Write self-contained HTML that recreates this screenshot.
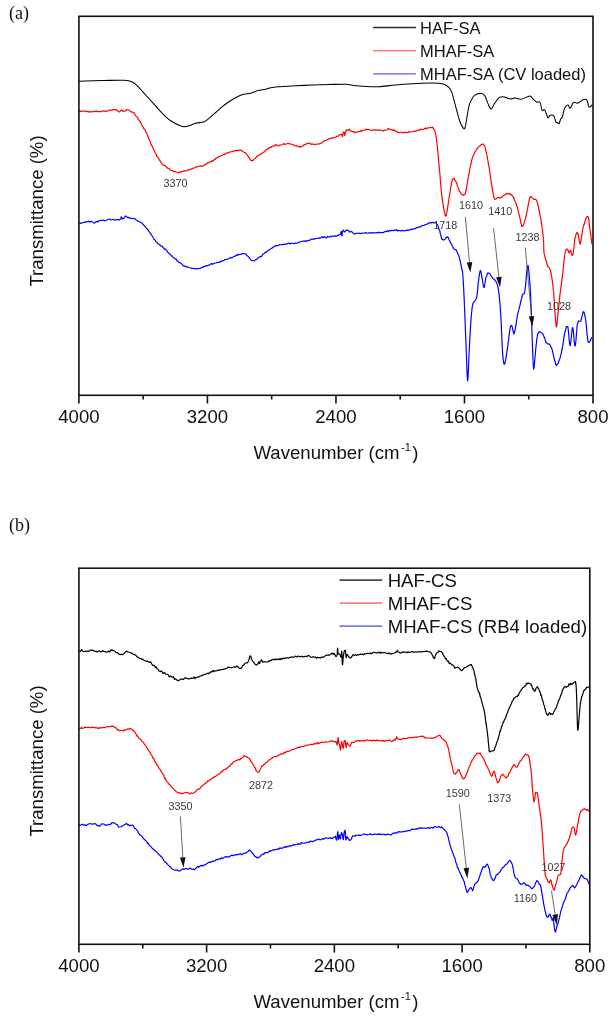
<!DOCTYPE html>
<html><head><meta charset="utf-8"><style>
html,body{margin:0;padding:0;background:#fff;overflow:hidden;width:614px;height:1020px;}
svg{display:block;will-change:transform;}
text{font-family:"Liberation Sans", sans-serif;}
</style></head><body>
<svg width="614" height="1020" viewBox="0 0 614 1020">
<rect width="614" height="1020" fill="#fff"/>
<path fill="none" stroke="#000" stroke-width="1.05" stroke-linejoin="round" d="M79.00,81.20C83.17,81.08 96.50,80.65 104.00,80.50C111.50,80.35 119.28,80.05 124.00,80.30C128.72,80.55 130.08,81.08 132.30,82.00C134.52,82.92 135.07,83.63 137.30,85.80C139.53,87.97 142.92,91.93 145.70,95.00C148.48,98.07 151.23,101.15 154.00,104.20C156.77,107.25 159.52,110.53 162.30,113.30C165.08,116.07 167.92,118.80 170.70,120.80C173.48,122.80 176.78,124.32 179.00,125.30C181.22,126.28 182.33,126.62 184.00,126.70C185.67,126.78 187.05,126.37 189.00,125.80C190.95,125.23 193.20,123.98 195.70,123.30C198.20,122.62 201.78,122.53 204.00,121.70C206.22,120.87 207.05,119.83 209.00,118.30C210.95,116.77 213.48,114.43 215.70,112.50C217.92,110.57 220.08,108.50 222.30,106.70C224.52,104.90 226.50,103.37 229.00,101.70C231.50,100.03 234.80,97.95 237.30,96.70C239.80,95.45 241.77,94.77 244.00,94.20C246.23,93.63 248.48,93.87 250.70,93.30C252.92,92.73 254.80,91.48 257.30,90.80C259.80,90.12 263.20,89.75 265.70,89.20C268.20,88.65 270.08,87.92 272.30,87.50C274.52,87.08 275.10,86.98 279.00,86.70C282.90,86.42 290.15,86.08 295.70,85.80C301.25,85.52 306.75,85.22 312.30,85.00C317.85,84.78 323.43,84.63 329.00,84.50C334.57,84.37 341.82,84.07 345.70,84.20C349.58,84.33 349.53,84.97 352.30,85.30C355.07,85.63 359.23,85.97 362.30,86.20C365.37,86.43 367.92,86.62 370.70,86.70C373.48,86.78 374.83,86.98 379.00,86.70C383.17,86.42 390.15,85.48 395.70,85.00C401.25,84.52 406.75,84.13 412.30,83.80C417.85,83.47 424.55,83.08 429.00,83.00C433.45,82.92 436.22,82.97 439.00,83.30C441.78,83.63 443.75,83.88 445.70,85.00C447.65,86.12 449.40,87.78 450.70,90.00C452.00,92.22 452.52,94.97 453.50,98.30C454.48,101.63 455.52,106.10 456.60,110.00C457.68,113.90 458.77,118.58 460.00,121.70C461.23,124.82 463.05,128.15 464.00,128.70C464.95,129.25 465.15,127.28 465.70,125.00C466.25,122.72 466.68,118.43 467.30,115.00C467.92,111.57 468.40,107.45 469.40,104.40C470.40,101.35 472.02,98.45 473.30,96.70C474.58,94.95 475.68,94.42 477.10,93.90C478.52,93.38 480.50,93.27 481.80,93.60C483.10,93.93 483.87,94.23 484.90,95.90C485.93,97.57 486.97,101.42 488.00,103.60C489.03,105.78 489.95,109.12 491.10,109.00C492.25,108.88 493.48,104.83 494.90,102.90C496.32,100.97 498.02,98.38 499.60,97.40C501.18,96.42 502.62,96.75 504.40,97.00C506.18,97.25 508.50,98.75 510.30,98.90C512.10,99.05 513.42,97.83 515.20,97.90C516.98,97.97 518.57,99.62 521.00,99.30C523.43,98.98 527.77,96.00 529.80,96.00C531.83,96.00 532.02,98.27 533.20,99.30C534.38,100.33 535.85,101.77 536.90,102.20C537.95,102.63 538.88,101.58 539.50,101.90C540.12,102.22 540.15,102.68 540.60,104.10C541.05,105.52 541.58,109.48 542.20,110.40C542.82,111.32 543.68,109.25 544.30,109.60C544.92,109.95 545.28,111.13 545.90,112.50C546.52,113.87 547.30,117.35 548.00,117.80C548.70,118.25 549.13,115.52 550.10,115.20C551.07,114.88 552.83,114.75 553.80,115.90C554.77,117.05 555.28,120.98 555.90,122.10C556.52,123.22 556.97,122.35 557.50,122.60C558.03,122.85 558.57,124.22 559.10,123.60C559.63,122.98 560.17,119.95 560.70,118.90C561.23,117.85 561.77,118.72 562.30,117.30C562.83,115.88 563.37,112.17 563.90,110.40C564.43,108.63 564.80,107.58 565.50,106.70C566.20,105.82 567.32,104.83 568.10,105.10C568.88,105.37 569.40,108.65 570.20,108.30C571.00,107.95 572.18,104.02 572.90,103.00C573.62,101.98 573.80,102.17 574.50,102.20C575.20,102.23 576.22,103.25 577.10,103.20C577.98,103.15 578.92,102.43 579.80,101.90C580.68,101.37 581.43,100.43 582.40,100.00C583.37,99.57 584.80,99.15 585.60,99.30C586.40,99.45 586.67,99.67 587.20,100.90C587.73,102.13 588.28,105.73 588.80,106.70C589.32,107.67 589.68,107.05 590.30,106.70C590.92,106.35 592.13,104.95 592.50,104.60"/>
<path fill="none" stroke="#ff0000" stroke-width="1.2" stroke-linejoin="round" d="M79.00,111.96 L79.66,110.83 L80.52,111.36 L81.54,111.19 L82.68,111.01 L83.91,111.16 L85.17,111.21 L86.43,111.40 L87.66,111.60 L88.80,111.85 L89.89,111.60 L90.98,111.95 L92.07,111.76 L93.16,111.67 L94.25,111.59 L95.34,111.36 L96.43,111.16 L97.52,111.68 L98.60,111.62 L99.71,111.75 L100.85,111.69 L102.02,111.06 L103.18,111.16 L104.32,110.92 L105.43,111.55 L106.47,111.06 L107.43,111.03 L108.30,110.56 L109.60,110.21 L110.65,110.18 L111.54,110.08 L112.36,110.06 L113.20,109.25 L114.64,109.89 L115.98,109.65 L117.10,110.09 L118.19,111.29 L119.10,112.03 L119.90,111.71 L120.75,110.76 L121.50,109.89 L122.16,110.21 L123.00,111.32 L123.83,111.16 L124.86,110.97 L125.94,110.38 L126.90,109.52 L128.44,110.01 L129.80,110.64 L131.14,111.84 L132.30,112.13 L133.70,112.49 L134.17,113.09 L134.66,113.74 L135.20,115.19 L136.21,116.32 L137.20,117.22 L137.63,117.36 L137.99,118.93 L138.60,119.77 L139.07,119.97 L139.61,121.27 L140.22,121.63 L140.89,122.81 L141.58,124.79 L142.30,126.33 L142.75,126.62 L143.22,127.23 L143.70,128.62 L144.21,129.00 L144.72,129.50 L145.24,129.98 L145.76,132.15 L146.28,132.09 L146.79,132.93 L147.30,134.75 L147.72,135.90 L148.13,136.52 L148.55,138.15 L148.97,138.75 L149.38,139.85 L149.80,140.95 L150.22,141.61 L150.63,142.89 L151.05,144.63 L151.47,144.48 L151.88,145.81 L152.30,146.86 L152.75,147.47 L153.21,148.62 L153.66,149.00 L154.12,150.39 L154.57,151.49 L155.03,152.79 L155.48,153.63 L155.94,153.98 L156.39,154.65 L156.85,156.51 L157.30,156.99 L157.86,156.98 L158.41,158.48 L158.97,159.21 L159.52,160.20 L160.08,160.67 L160.63,161.94 L161.19,162.67 L161.74,163.46 L162.30,164.54 L163.30,165.19 L164.30,165.38 L165.30,165.76 L166.30,166.70 L167.30,167.88 L168.27,168.50 L169.22,168.68 L170.18,170.00 L171.19,170.39 L172.30,170.57 L173.30,171.33 L174.35,171.53 L175.44,171.50 L176.59,171.98 L177.77,172.33 L179.00,172.75 L179.96,171.82 L180.96,172.07 L181.99,171.72 L183.04,171.37 L184.11,170.60 L185.18,171.11 L186.25,170.77 L187.30,170.55 L188.35,169.85 L189.40,169.90 L190.45,169.25 L191.50,169.10 L192.55,168.32 L193.60,168.20 L194.65,167.69 L195.70,167.12 L196.74,167.04 L197.78,166.51 L198.82,166.24 L199.86,166.21 L200.89,165.84 L201.93,166.46 L202.96,166.01 L204.00,165.37 L204.92,164.88 L205.84,163.89 L206.76,163.84 L207.68,162.78 L208.60,162.59 L209.53,162.14 L210.45,161.68 L211.37,161.61 L212.30,160.51 L213.23,161.11 L214.16,159.52 L215.10,159.42 L216.03,157.98 L216.97,158.26 L217.90,156.93 L218.84,156.87 L219.77,156.28 L220.70,156.08 L221.73,155.51 L222.74,154.97 L223.75,154.34 L224.75,154.68 L225.77,153.43 L226.81,153.23 L227.88,152.69 L229.00,152.54 L229.95,151.85 L230.97,151.73 L232.03,151.73 L233.12,151.03 L234.21,151.09 L235.28,150.45 L236.31,150.91 L237.29,150.16 L238.19,150.69 L239.00,150.17 L240.35,149.99 L241.44,150.63 L242.36,151.11 L243.19,151.72 L244.00,152.18 L244.92,152.67 L245.68,152.69 L246.43,154.30 L247.30,154.96 L247.89,155.88 L248.52,157.10 L249.18,157.39 L249.85,159.08 L250.52,160.32 L251.18,160.33 L251.80,160.38 L252.75,160.85 L253.62,159.66 L254.55,158.90 L255.70,157.94 L256.52,156.42 L257.44,156.49 L258.42,155.23 L259.44,154.90 L260.45,154.73 L261.42,153.48 L262.30,153.04 L263.21,152.43 L264.02,152.00 L264.79,151.32 L265.57,150.66 L266.39,149.66 L267.30,148.93 L268.18,148.79 L269.14,147.79 L270.14,147.26 L271.16,147.28 L272.16,146.27 L273.12,145.81 L274.00,146.19 L275.03,145.45 L275.88,144.51 L276.72,144.95 L277.71,145.82 L279.00,145.99 L279.81,144.77 L280.73,144.97 L281.74,144.82 L282.80,144.49 L283.89,143.57 L285.00,144.41 L286.09,144.02 L287.13,143.75 L288.11,143.21 L289.00,143.57 L290.33,143.91 L291.54,144.17 L292.66,144.74 L293.71,144.95 L294.72,145.83 L295.70,146.01 L296.78,145.69 L297.75,146.20 L298.67,146.81 L299.62,146.58 L300.70,147.18 L301.53,146.24 L302.37,146.10 L303.24,145.70 L304.15,144.53 L305.12,144.84 L306.16,143.89 L307.30,143.44 L308.16,143.37 L309.08,143.05 L310.05,143.26 L311.06,144.40 L312.09,143.98 L313.14,144.08 L314.19,144.36 L315.25,144.55 L316.28,144.04 L317.30,144.11 L318.31,144.02 L319.34,143.93 L320.38,143.23 L321.42,143.24 L322.45,142.05 L323.47,141.47 L324.48,140.57 L325.45,140.53 L326.40,140.31 L327.30,139.60 L328.38,139.20 L329.43,138.54 L330.44,138.34 L331.42,138.07 L332.35,137.90 L333.25,138.02 L334.10,137.55 L334.90,137.41 L336.10,137.03 L337.20,136.00 L338.19,136.21 L339.06,135.39 L339.80,134.62 L341.70,134.47 L342.17,135.84 L342.50,136.05 L342.68,136.70 L342.84,134.65 L343.01,133.68 L343.20,132.06 L344.20,132.22 L344.39,133.40 L344.52,134.59 L344.70,135.67 L344.89,135.07 L345.12,134.08 L345.36,132.25 L345.60,131.86 L346.60,129.88 L348.10,130.38 L349.30,129.21 L350.50,131.11 L351.71,131.06 L353.00,132.01 L353.95,131.29 L354.90,132.70 L356.11,132.46 L357.40,131.83 L358.40,131.56 L360.00,131.36 L360.76,130.52 L361.61,131.34 L362.57,130.53 L363.62,130.17 L364.76,130.24 L365.99,129.12 L367.30,129.52 L368.22,129.53 L369.23,129.38 L370.32,130.13 L371.46,130.50 L372.63,129.96 L373.81,129.88 L374.97,130.14 L376.09,129.89 L377.15,130.15 L378.13,130.29 L379.00,130.10 L380.39,130.13 L381.58,130.43 L382.62,130.57 L383.55,130.91 L384.40,130.20 L385.20,130.29 L386.47,129.96 L387.42,129.50 L388.50,128.42 L389.49,129.39 L390.55,129.78 L391.71,129.46 L393.00,130.57 L393.92,129.78 L394.87,130.89 L395.88,130.79 L396.96,132.15 L398.16,132.42 L399.50,132.55 L400.41,132.26 L401.41,132.14 L402.48,132.72 L403.60,132.41 L404.75,132.83 L405.90,132.01 L407.02,132.68 L408.09,132.67 L409.09,131.64 L410.00,131.92 L411.31,131.99 L412.46,131.85 L413.50,131.24 L414.48,131.61 L415.46,130.94 L416.50,131.04 L417.57,130.13 L418.62,130.03 L419.67,130.33 L420.74,129.13 L421.84,129.38 L423.00,129.57 L424.09,129.06 L425.29,128.00 L426.52,128.92 L427.75,127.66 L428.91,127.93 L429.95,127.77 L430.80,127.25 L432.07,127.75 L432.77,127.09 L433.40,128.89 L433.96,129.67 L434.48,130.40 L434.96,131.66 L435.40,133.34 L435.62,134.17 L435.82,134.55 L436.01,136.04 L436.18,137.26 L436.35,138.08 L436.52,139.47 L436.70,139.90 L436.80,141.03 L436.89,142.55 L436.99,142.77 L437.08,144.49 L437.18,145.53 L437.27,145.75 L437.37,146.68 L437.46,148.05 L437.56,149.27 L437.67,150.59 L437.77,151.36 L437.88,152.64 L438.00,153.51 L438.08,154.83 L438.17,155.36 L438.26,156.91 L438.35,157.76 L438.44,157.92 L438.53,159.62 L438.63,160.13 L438.73,161.89 L438.83,162.24 L438.92,164.10 L439.02,165.10 L439.12,166.48 L439.22,166.99 L439.32,167.96 L439.42,169.45 L439.52,169.67 L439.61,171.14 L439.71,172.10 L439.80,173.24 L439.89,173.69 L439.97,174.66 L440.05,175.66 L440.13,177.78 L440.21,178.17 L440.29,179.53 L440.37,180.30 L440.45,181.29 L440.53,182.85 L440.61,182.61 L440.69,184.37 L440.77,185.19 L440.85,186.15 L440.93,186.91 L441.02,187.93 L441.11,189.04 L441.20,190.81 L441.30,191.14 L441.40,192.16 L441.50,193.19 L441.64,194.63 L441.78,195.94 L441.93,196.81 L442.09,197.92 L442.25,199.27 L442.41,199.96 L442.58,201.45 L442.75,203.08 L442.92,203.35 L443.09,204.34 L443.25,205.11 L443.41,206.64 L443.57,207.76 L443.72,208.26 L443.86,209.10 L444.00,210.37 L444.33,211.70 L444.63,213.37 L444.91,214.13 L445.17,215.54 L445.43,215.90 L445.70,215.71 L445.96,215.38 L446.21,215.97 L446.45,213.89 L446.70,212.79 L446.98,210.82 L447.30,210.20 L447.43,209.23 L447.57,208.34 L447.71,206.92 L447.86,206.48 L448.01,205.16 L448.17,203.94 L448.33,203.14 L448.49,202.19 L448.66,200.87 L448.82,199.58 L448.99,198.85 L449.15,197.54 L449.32,196.21 L449.48,195.46 L449.64,194.34 L449.80,193.58 L449.99,192.38 L450.19,191.16 L450.39,189.51 L450.60,188.98 L450.80,187.70 L451.00,186.02 L451.20,185.54 L451.40,184.08 L451.59,182.71 L451.78,182.13 L451.96,180.87 L452.13,180.97 L452.30,179.52 L453.15,178.70 L454.00,178.36 L454.44,179.10 L454.90,180.34 L455.40,180.99 L455.94,181.44 L456.50,183.22 L456.83,183.43 L457.18,185.21 L457.54,185.62 L457.91,186.99 L458.28,188.03 L458.66,188.58 L459.04,190.18 L459.42,191.55 L459.80,191.35 L460.66,192.80 L461.55,194.18 L462.41,195.14 L463.20,194.66 L463.87,195.03 L464.46,194.80 L465.04,194.07 L465.70,191.38 L465.86,191.87 L466.03,190.97 L466.20,188.96 L466.38,188.25 L466.56,187.68 L466.74,186.31 L466.93,185.27 L467.11,184.34 L467.30,182.95 L467.49,181.83 L467.68,180.95 L467.87,179.57 L468.06,178.68 L468.25,177.78 L468.44,176.70 L468.63,175.28 L468.82,174.94 L469.00,173.14 L469.22,172.47 L469.44,171.67 L469.66,170.00 L469.88,169.12 L470.10,167.58 L470.32,166.47 L470.53,165.68 L470.75,164.75 L470.97,163.70 L471.19,162.82 L471.41,161.76 L471.63,160.71 L471.85,159.66 L472.08,159.01 L472.30,158.29 L472.72,156.95 L473.15,155.42 L473.57,155.20 L474.00,154.22 L474.43,153.09 L474.85,152.08 L475.28,151.88 L475.70,150.70 L476.36,149.64 L477.00,149.04 L477.64,147.88 L478.30,147.41 L479.00,146.51 L479.96,145.89 L480.97,144.78 L481.98,144.17 L482.90,144.03 L483.44,144.40 L483.94,145.06 L484.41,146.10 L484.86,146.65 L485.32,148.00 L485.80,150.11 L486.00,150.90 L486.20,151.59 L486.40,153.07 L486.60,153.65 L486.80,154.90 L487.00,155.53 L487.20,156.09 L487.40,157.19 L487.60,159.15 L487.80,159.93 L488.00,160.92 L488.20,162.69 L488.40,164.02 L488.60,164.74 L488.80,166.23 L488.95,166.63 L489.11,167.39 L489.26,168.15 L489.42,170.12 L489.57,170.27 L489.72,171.73 L489.88,172.97 L490.03,174.23 L490.18,174.48 L490.33,176.13 L490.48,177.01 L490.64,178.86 L490.79,179.36 L490.94,180.25 L491.09,182.08 L491.24,182.55 L491.40,183.73 L491.55,184.50 L491.70,185.23 L491.91,186.73 L492.11,187.44 L492.32,188.42 L492.53,189.86 L492.73,191.47 L492.94,192.26 L493.14,193.84 L493.35,194.76 L493.56,195.56 L493.76,196.76 L493.97,197.32 L494.18,198.01 L494.39,198.41 L494.60,198.95 L495.60,199.35 L496.60,198.37 L497.60,197.52 L498.54,197.61 L499.46,197.92 L500.50,197.95 L501.38,197.59 L502.32,196.50 L503.33,195.80 L504.40,194.98 L505.33,194.63 L506.34,193.39 L507.36,193.84 L508.37,193.87 L509.30,193.33 L510.14,194.54 L510.93,194.41 L511.69,194.79 L512.44,196.32 L513.20,196.67 L513.59,198.61 L514.00,198.26 L514.40,199.71 L514.81,200.83 L515.21,201.60 L515.61,202.47 L516.00,203.27 L516.38,204.56 L516.75,205.78 L517.10,207.12 L517.38,206.96 L517.65,208.88 L517.91,209.29 L518.16,210.49 L518.40,211.69 L518.64,212.55 L518.88,214.00 L519.11,214.26 L519.33,215.96 L519.56,216.40 L519.78,217.52 L520.00,218.46 L520.32,219.30 L520.61,221.26 L520.89,223.19 L521.16,223.51 L521.44,224.52 L521.73,226.17 L522.05,226.74 L522.40,225.60 L522.71,225.94 L523.03,225.32 L523.37,224.97 L523.72,224.01 L524.08,222.68 L524.45,221.73 L524.82,221.00 L525.18,219.00 L525.55,218.03 L525.90,216.80 L526.11,216.32 L526.32,214.93 L526.54,213.84 L526.77,212.35 L526.99,211.61 L527.22,210.80 L527.45,209.30 L527.67,208.35 L527.89,206.57 L528.11,205.81 L528.32,204.31 L528.52,203.06 L528.72,202.04 L528.91,201.69 L529.08,200.61 L529.25,199.58 L529.40,198.90 L530.14,196.79 L530.80,196.44 L531.42,197.34 L532.15,197.85 L532.93,198.47 L533.70,199.33 L534.70,199.25 L535.70,199.31 L536.70,200.72 L536.95,201.34 L537.20,202.12 L537.45,202.82 L537.70,203.77 L537.95,205.10 L538.19,205.58 L538.44,206.27 L538.68,208.82 L538.92,209.41 L539.15,210.56 L539.38,212.00 L539.60,213.07 L539.80,214.17 L539.99,215.00 L540.19,215.96 L540.37,216.90 L540.56,217.74 L540.74,218.80 L540.92,218.69 L541.09,221.53 L541.26,222.00 L541.43,222.77 L541.59,224.57 L541.75,225.00 L541.90,226.42 L542.05,227.06 L542.20,228.02 L542.34,229.85 L542.48,230.59 L542.62,231.09 L542.75,232.92 L542.88,234.07 L543.00,234.73 L543.11,236.12 L543.22,237.37 L543.32,238.36 L543.41,239.20 L543.50,240.25 L543.57,241.62 L543.63,242.22 L543.66,243.12 L543.68,244.19 L543.70,246.42 L543.71,246.02 L543.72,247.40 L543.74,247.77 L543.77,249.37 L543.83,250.28 L543.90,251.25 L544.00,252.45 L544.18,253.88 L544.40,254.60 L544.65,255.37 L544.93,256.56 L545.21,257.78 L545.50,258.53 L545.79,259.70 L546.06,260.81 L546.30,261.56 L546.69,263.60 L547.05,263.62 L547.40,265.35 L547.74,266.63 L548.10,266.72 L549.04,267.17 L550.00,269.60 L550.21,269.90 L550.42,270.55 L550.64,271.66 L550.85,271.90 L551.06,272.93 L551.27,275.00 L551.48,275.72 L551.69,276.41 L551.90,278.25 L552.02,279.64 L552.15,279.58 L552.27,280.25 L552.39,280.88 L552.52,282.52 L552.64,283.46 L552.76,284.22 L552.89,285.23 L553.01,286.33 L553.13,287.25 L553.24,288.34 L553.36,289.98 L553.48,290.80 L553.59,292.15 L553.70,292.56 L553.77,293.74 L553.85,295.32 L553.92,295.99 L553.99,297.29 L554.07,297.48 L554.14,299.25 L554.21,299.92 L554.28,301.22 L554.34,302.09 L554.41,303.12 L554.48,304.21 L554.55,305.64 L554.62,307.15 L554.68,307.52 L554.75,308.75 L554.81,309.67 L554.88,310.74 L554.94,312.23 L555.01,312.80 L555.07,313.52 L555.14,314.93 L555.20,315.60 L555.33,317.12 L555.45,318.55 L555.57,319.74 L555.69,321.60 L555.80,322.38 L555.92,323.81 L556.04,324.78 L556.15,325.94 L556.27,326.11 L556.38,326.83 L556.50,326.11 L556.62,326.58 L556.73,326.18 L556.84,325.48 L556.95,323.89 L557.06,323.78 L557.17,322.13 L557.28,320.81 L557.40,320.21 L557.53,318.20 L557.66,317.19 L557.80,314.90 L557.89,314.87 L557.98,313.81 L558.08,312.92 L558.17,311.53 L558.27,310.98 L558.37,309.77 L558.47,309.25 L558.58,307.56 L558.68,306.10 L558.79,305.92 L558.90,304.10 L559.01,303.29 L559.12,302.52 L559.23,301.74 L559.35,300.27 L559.46,299.24 L559.58,298.00 L559.70,296.93 L559.82,295.84 L559.94,294.97 L560.07,293.55 L560.19,292.94 L560.32,292.28 L560.45,290.96 L560.58,289.87 L560.71,289.19 L560.84,287.65 L560.98,286.88 L561.11,286.71 L561.25,285.19 L561.39,284.13 L561.53,282.77 L561.67,281.48 L561.81,280.23 L561.96,279.48 L562.10,278.74 L562.21,277.35 L562.32,276.69 L562.43,275.30 L562.55,274.39 L562.67,273.41 L562.79,273.17 L562.91,271.09 L563.03,269.60 L563.15,269.08 L563.27,267.61 L563.39,266.64 L563.51,265.06 L563.63,264.48 L563.76,262.82 L563.88,262.10 L564.00,260.76 L564.12,259.61 L564.23,259.06 L564.35,258.05 L564.46,256.32 L564.58,256.40 L564.69,255.65 L564.79,254.71 L564.90,254.11 L565.38,251.68 L565.84,250.19 L566.27,249.16 L566.69,249.28 L567.10,249.22 L567.61,249.09 L568.09,250.82 L568.56,251.99 L569.00,252.94 L569.50,252.74 L569.96,250.95 L570.50,250.37 L570.89,250.98 L571.32,253.47 L571.77,254.70 L572.24,255.45 L572.70,255.07 L572.84,255.11 L572.99,254.26 L573.14,253.12 L573.28,251.99 L573.43,250.58 L573.58,250.24 L573.73,249.11 L573.88,248.04 L574.03,246.03 L574.18,244.93 L574.34,242.68 L574.49,242.34 L574.64,240.71 L574.79,239.63 L574.95,238.70 L575.10,237.91 L575.51,236.25 L575.92,235.06 L576.34,233.41 L576.76,232.69 L577.18,232.38 L577.60,233.28 L577.83,233.34 L578.07,233.74 L578.31,235.39 L578.55,237.05 L578.79,237.92 L579.03,239.71 L579.27,241.24 L579.50,241.63 L579.74,243.12 L579.97,243.63 L580.20,244.08 L580.38,244.00 L580.56,242.90 L580.74,241.82 L580.91,241.25 L581.09,240.36 L581.27,238.95 L581.44,237.99 L581.62,236.20 L581.79,235.46 L581.96,234.24 L582.12,233.43 L582.29,231.59 L582.44,230.97 L582.60,229.56 L582.95,228.04 L583.27,226.78 L583.59,225.98 L583.89,224.69 L584.19,223.64 L584.50,224.05 L584.86,221.95 L585.22,220.77 L585.58,219.62 L585.94,218.36 L586.30,217.63 L587.25,216.47 L588.20,216.89 L588.34,217.71 L588.48,217.62 L588.62,218.99 L588.76,219.44 L588.90,220.31 L589.03,222.06 L589.17,223.02 L589.30,224.33 L589.44,225.48 L589.58,225.79 L589.72,227.79 L589.86,229.36 L590.00,229.86 L590.14,231.12 L590.28,232.35 L590.43,233.58 L590.59,233.30 L590.75,235.20 L590.91,236.41 L591.06,237.53 L591.21,239.09 L591.36,239.37 L591.49,239.97 L591.62,241.80 L591.73,242.44 L591.82,243.58 L591.90,244.17"/>
<path fill="none" stroke="#0000ff" stroke-width="1.2" stroke-linejoin="round" d="M79.00,222.82 L79.86,222.92 L81.08,223.33 L82.49,222.73 L83.90,222.47 L84.84,222.45 L85.83,221.51 L86.86,221.91 L87.88,221.74 L88.87,221.13 L89.80,222.20 L90.84,221.22 L91.84,221.65 L92.79,222.22 L93.71,222.81 L94.60,223.17 L95.66,221.80 L96.66,221.56 L97.63,222.03 L98.60,221.01 L99.62,220.59 L100.65,220.28 L101.63,220.63 L102.50,219.99 L103.73,220.40 L104.90,220.88 L105.90,220.53 L107.02,220.06 L108.30,219.22 L109.37,218.97 L110.53,219.81 L111.80,219.76 L113.20,219.26 L114.30,220.14 L115.57,219.79 L116.89,219.49 L118.16,219.94 L119.26,219.80 L120.10,219.26 L120.89,219.08 L121.03,216.73 L121.20,216.81 L121.74,217.40 L122.50,219.10 L123.33,218.44 L124.33,217.78 L125.40,216.00 L126.51,216.71 L127.68,217.54 L128.90,217.37 L130.21,218.46 L131.56,218.25 L132.80,218.57 L133.83,218.49 L134.74,218.32 L135.70,219.77 L136.70,220.25 L137.74,221.14 L139.00,221.52 L139.76,221.72 L140.59,222.51 L141.48,222.76 L142.40,223.67 L143.31,224.75 L144.20,225.64 L144.84,226.51 L145.47,226.72 L146.09,228.00 L146.72,228.49 L147.35,228.86 L148.01,229.88 L148.69,231.12 L149.40,231.86 L149.93,232.60 L150.47,233.77 L151.01,233.97 L151.55,235.19 L152.11,235.86 L152.69,236.50 L153.28,237.88 L153.90,239.23 L154.54,239.56 L155.20,240.28 L155.90,241.78 L156.58,242.23 L157.29,242.90 L158.04,243.78 L158.82,244.09 L159.61,244.64 L160.42,245.64 L161.23,246.04 L162.04,246.07 L162.84,247.55 L163.62,247.90 L164.37,249.11 L165.10,249.13 L165.85,249.12 L166.57,250.52 L167.26,251.15 L167.93,252.55 L168.59,253.05 L169.26,253.84 L169.93,253.90 L170.62,254.80 L171.34,256.01 L172.10,255.82 L172.90,257.06 L173.62,257.98 L174.38,258.05 L175.18,258.99 L175.99,258.85 L176.83,260.86 L177.68,260.74 L178.52,262.30 L179.37,262.65 L180.21,262.69 L181.02,263.35 L181.82,264.02 L182.58,264.82 L183.30,265.83 L184.40,265.96 L185.43,266.63 L186.42,266.34 L187.36,267.23 L188.29,267.20 L189.21,267.47 L190.14,267.74 L191.10,268.30 L192.19,268.31 L193.25,268.50 L194.30,268.55 L195.37,268.55 L196.47,268.94 L197.64,268.89 L198.90,268.53 L199.76,268.40 L200.68,267.97 L201.64,267.40 L202.63,267.48 L203.64,266.43 L204.66,266.54 L205.67,265.76 L206.66,265.60 L207.62,265.81 L208.54,265.15 L209.40,264.90 L210.49,264.22 L211.48,263.63 L212.41,264.09 L213.31,263.92 L214.20,263.22 L215.13,263.04 L216.12,262.81 L217.20,262.44 L218.05,262.52 L218.93,262.36 L219.85,261.61 L220.79,261.97 L221.75,260.85 L222.73,260.91 L223.71,260.69 L224.69,259.46 L225.67,259.74 L226.64,259.18 L227.60,258.98 L228.56,258.79 L229.54,258.22 L230.54,257.42 L231.55,258.07 L232.55,257.40 L233.54,256.62 L234.51,256.17 L235.44,256.04 L236.35,255.15 L237.20,255.35 L238.00,254.43 L239.34,254.66 L240.55,254.38 L241.66,253.85 L242.67,253.65 L243.61,253.75 L244.50,253.48 L245.66,253.96 L246.61,255.02 L247.48,256.07 L248.40,256.51 L249.15,257.62 L249.87,258.78 L250.62,259.68 L251.44,260.24 L252.40,260.77 L253.19,260.73 L254.04,260.89 L254.94,260.42 L255.89,259.50 L256.88,259.46 L257.88,258.24 L258.90,257.39 L259.71,256.82 L260.55,256.47 L261.40,256.54 L262.28,255.37 L263.16,253.78 L264.05,253.61 L264.94,252.72 L265.83,251.97 L266.70,252.07 L267.54,251.39 L268.33,250.18 L269.11,249.93 L269.88,249.36 L270.68,248.73 L271.51,248.48 L272.42,247.68 L273.41,246.80 L274.50,246.58 L275.34,245.56 L276.24,245.65 L277.20,245.82 L278.20,245.40 L279.24,244.90 L280.30,244.72 L281.37,244.53 L282.45,244.73 L283.51,244.21 L284.56,244.42 L285.59,244.03 L286.57,244.19 L287.50,243.66 L288.65,243.08 L289.75,243.91 L290.82,243.39 L291.86,243.38 L292.88,243.52 L293.88,243.67 L294.89,243.11 L295.91,243.18 L296.94,243.10 L298.00,242.96 L298.98,242.00 L299.96,241.80 L300.95,241.55 L301.93,241.24 L302.93,241.08 L303.92,241.06 L304.93,240.83 L305.94,241.48 L306.95,240.84 L307.97,240.56 L309.00,240.28 L310.04,240.24 L311.09,239.05 L312.14,239.28 L313.21,238.92 L314.28,239.19 L315.35,238.62 L316.42,238.50 L317.50,238.22 L318.57,237.85 L319.64,238.30 L320.70,237.74 L321.78,236.77 L322.90,237.73 L324.04,236.59 L325.18,237.48 L326.32,238.00 L327.45,236.47 L328.54,237.15 L329.58,236.68 L330.56,236.30 L331.47,236.90 L332.30,236.16 L333.86,236.16 L335.15,235.89 L336.20,236.12 L337.07,235.82 L337.80,235.63 L339.00,234.88 L340.50,234.21 L340.89,232.16 L341.20,231.58 L341.40,232.49 L341.61,233.81 L341.82,235.51 L342.00,236.00 L342.14,235.84 L342.24,233.84 L342.35,232.63 L342.50,231.46 L343.40,230.13 L344.40,232.03 L345.60,230.83 L347.10,230.12 L348.30,230.46 L349.02,231.06 L349.80,232.20 L351.50,231.36 L352.28,232.14 L353.00,232.96 L354.20,234.13 L354.87,234.00 L355.90,233.36 L356.72,233.46 L357.70,233.26 L358.81,233.02 L360.00,233.67 L360.92,233.44 L361.80,233.19 L362.80,233.26 L364.05,233.17 L365.70,232.62 L366.49,233.03 L367.38,233.24 L368.35,232.94 L369.40,232.87 L370.49,233.06 L371.62,232.69 L372.76,232.85 L373.90,232.90 L375.03,232.94 L376.12,232.55 L377.15,232.98 L378.12,232.23 L379.00,232.89 L380.28,232.26 L381.42,232.58 L382.47,232.71 L383.46,232.56 L384.40,231.84 L385.34,231.44 L386.29,231.56 L387.30,230.81 L388.35,231.67 L389.40,230.45 L390.45,231.11 L391.50,230.22 L392.55,230.36 L393.60,230.72 L394.65,230.08 L395.70,230.31 L396.74,229.72 L397.78,231.06 L398.82,230.27 L399.86,230.73 L400.89,230.84 L401.93,230.43 L402.96,230.56 L404.00,230.97 L405.04,230.68 L406.07,230.32 L407.11,230.42 L408.14,229.90 L409.18,230.11 L410.22,229.86 L411.26,229.08 L412.30,229.54 L413.35,228.93 L414.40,228.50 L415.45,228.54 L416.50,227.53 L417.55,227.71 L418.60,227.14 L419.65,226.92 L420.70,226.97 L421.77,225.67 L422.89,225.52 L424.02,225.31 L425.14,224.71 L426.23,224.42 L427.25,224.22 L428.18,223.04 L429.00,223.21 L430.57,222.57 L431.63,222.87 L432.70,222.31 L434.00,222.66 L435.30,222.79 L436.50,223.40 L436.95,224.39 L437.38,224.94 L437.78,225.51 L438.16,226.37 L438.54,227.74 L438.91,229.48 L439.30,229.79 L439.60,230.71 L439.90,231.14 L440.20,233.34 L440.50,234.20 L440.80,235.14 L441.10,236.83 L441.40,237.15 L441.70,239.09 L442.00,238.93 L443.39,240.15 L444.80,239.31 L445.73,238.33 L446.67,236.82 L447.60,237.42 L448.16,237.19 L448.72,238.69 L449.28,240.06 L449.84,240.94 L450.40,242.70 L450.87,243.15 L451.33,243.78 L451.80,244.66 L452.27,246.04 L452.73,246.82 L453.20,247.58 L454.13,249.15 L455.07,249.51 L456.00,249.92 L456.47,250.48 L456.95,251.71 L457.43,252.50 L457.90,253.66 L458.36,254.61 L458.80,255.87 L459.08,256.85 L459.35,257.22 L459.62,258.87 L459.88,260.00 L460.14,260.37 L460.39,262.23 L460.63,263.02 L460.87,264.53 L461.10,264.99 L461.28,266.76 L461.46,267.58 L461.64,268.54 L461.80,268.46 L461.97,269.05 L462.13,269.83 L462.29,270.80 L462.44,271.55 L462.60,273.72 L462.75,274.00 L462.90,275.95 L462.96,276.52 L463.02,277.92 L463.07,278.82 L463.13,278.97 L463.19,279.86 L463.24,281.22 L463.30,281.68 L463.35,283.35 L463.40,283.63 L463.46,285.32 L463.51,286.22 L463.56,286.39 L463.62,287.57 L463.67,288.77 L463.72,289.62 L463.77,290.62 L463.82,292.11 L463.88,293.87 L463.93,293.79 L463.98,294.68 L464.03,296.38 L464.08,297.27 L464.14,298.82 L464.19,299.51 L464.24,300.73 L464.29,302.56 L464.35,302.97 L464.40,304.73 L464.44,304.71 L464.48,306.21 L464.52,307.08 L464.56,307.82 L464.60,309.19 L464.64,310.32 L464.68,311.17 L464.72,311.37 L464.76,312.32 L464.80,313.69 L464.84,315.49 L464.88,315.08 L464.92,316.73 L464.96,318.42 L465.00,318.71 L465.04,319.90 L465.08,320.65 L465.12,321.54 L465.16,322.55 L465.20,324.50 L465.24,324.98 L465.28,325.61 L465.32,326.66 L465.36,327.63 L465.40,329.93 L465.44,330.27 L465.48,331.32 L465.52,331.85 L465.56,333.56 L465.60,334.58 L465.65,336.33 L465.69,337.41 L465.73,337.69 L465.77,338.34 L465.81,339.37 L465.86,340.29 L465.90,341.39 L465.94,343.12 L465.99,343.83 L466.03,345.15 L466.07,345.66 L466.12,347.29 L466.16,348.53 L466.20,349.16 L466.25,350.74 L466.29,352.01 L466.34,353.93 L466.38,354.56 L466.43,355.97 L466.47,356.97 L466.52,358.80 L466.57,359.75 L466.61,361.30 L466.66,362.32 L466.70,363.76 L466.75,365.34 L466.80,365.75 L466.84,367.47 L466.89,368.09 L466.93,369.78 L466.98,369.88 L467.03,371.53 L467.07,372.53 L467.12,373.42 L467.16,374.41 L467.21,375.40 L467.25,376.26 L467.30,377.07 L467.34,378.18 L467.38,378.39 L467.43,379.44 L467.47,379.53 L467.51,379.51 L467.56,379.92 L467.60,381.01 L467.66,380.44 L467.72,380.25 L467.77,379.67 L467.83,379.77 L467.89,379.16 L467.94,377.90 L468.00,377.68 L468.05,376.39 L468.10,375.30 L468.16,375.03 L468.21,373.78 L468.26,372.49 L468.32,371.56 L468.37,370.31 L468.42,368.73 L468.48,367.53 L468.53,366.06 L468.59,364.80 L468.64,363.67 L468.69,362.10 L468.75,360.59 L468.81,358.92 L468.86,357.97 L468.92,355.71 L468.98,355.05 L469.04,353.75 L469.10,353.21 L469.15,351.40 L469.21,350.80 L469.26,349.90 L469.32,348.31 L469.37,347.72 L469.43,346.22 L469.48,345.98 L469.54,344.55 L469.60,343.36 L469.65,342.05 L469.71,340.62 L469.77,340.01 L469.83,339.67 L469.89,337.46 L469.95,337.02 L470.00,335.95 L470.06,334.63 L470.12,334.17 L470.18,332.50 L470.24,331.91 L470.30,330.57 L470.36,329.69 L470.42,328.04 L470.48,327.54 L470.54,325.98 L470.60,325.86 L470.66,325.20 L470.72,323.61 L470.78,322.25 L470.84,322.18 L470.90,321.46 L471.01,319.39 L471.12,317.89 L471.22,317.28 L471.33,315.58 L471.43,314.82 L471.53,313.50 L471.63,312.36 L471.73,311.89 L471.84,309.99 L471.95,308.90 L472.07,308.30 L472.20,307.31 L472.33,306.80 L472.48,305.52 L472.63,305.63 L472.80,304.27 L473.25,302.94 L473.78,302.04 L474.35,301.70 L474.95,300.81 L475.52,299.98 L476.05,299.25 L476.50,297.77 L476.67,297.43 L476.82,296.41 L476.97,295.95 L477.10,293.86 L477.23,293.92 L477.34,292.42 L477.46,291.01 L477.56,290.21 L477.67,289.52 L477.77,287.77 L477.87,286.45 L477.97,286.24 L478.07,284.22 L478.17,283.93 L478.28,282.62 L478.40,281.55 L478.57,280.79 L478.75,279.18 L478.92,277.66 L479.10,277.13 L479.27,275.61 L479.44,274.17 L479.62,273.31 L479.79,272.53 L479.96,271.40 L480.13,271.03 L480.30,270.71 L480.53,270.58 L480.75,271.06 L480.98,272.19 L481.20,273.15 L481.42,274.07 L481.65,275.55 L481.87,277.48 L482.10,278.21 L482.31,279.14 L482.52,280.61 L482.73,281.75 L482.94,282.90 L483.16,284.57 L483.37,286.45 L483.58,286.40 L483.79,287.39 L484.00,287.28 L484.20,287.38 L484.39,286.46 L484.58,285.69 L484.77,284.52 L484.96,283.26 L485.15,282.16 L485.35,280.77 L485.57,279.74 L485.80,277.51 L486.17,277.00 L486.56,276.33 L486.97,275.23 L487.40,273.49 L487.84,272.82 L488.30,273.15 L489.04,273.22 L489.83,273.80 L490.63,275.28 L491.40,276.24 L492.36,277.58 L493.28,278.97 L494.20,279.05 L494.77,279.83 L495.36,280.96 L495.94,281.63 L496.50,282.35 L497.00,283.88 L497.25,284.61 L497.48,285.31 L497.70,286.55 L497.91,287.10 L498.10,287.84 L498.30,289.04 L498.50,290.27 L498.69,291.73 L498.90,293.17 L498.99,294.79 L499.07,295.08 L499.16,295.29 L499.25,296.42 L499.33,297.48 L499.42,297.91 L499.51,298.81 L499.60,299.91 L499.68,300.43 L499.77,301.61 L499.86,302.83 L499.94,303.50 L500.03,304.58 L500.12,305.87 L500.20,306.46 L500.29,307.73 L500.37,308.94 L500.46,310.62 L500.55,311.76 L500.63,313.22 L500.72,314.14 L500.80,315.36 L500.85,316.51 L500.90,317.23 L500.95,318.45 L501.00,319.43 L501.05,319.95 L501.10,320.94 L501.15,322.13 L501.19,322.98 L501.24,324.30 L501.29,324.92 L501.34,326.41 L501.39,327.86 L501.44,329.03 L501.48,329.68 L501.53,330.76 L501.58,331.82 L501.63,333.40 L501.68,333.58 L501.72,335.57 L501.77,336.56 L501.82,337.44 L501.87,338.73 L501.92,339.52 L501.96,341.91 L502.01,341.93 L502.06,343.08 L502.11,343.89 L502.16,343.81 L502.21,346.63 L502.25,347.53 L502.30,347.97 L502.35,349.48 L502.40,349.99 L502.45,350.43 L502.50,351.39 L502.55,353.14 L502.60,352.89 L502.77,355.46 L502.93,356.89 L503.09,359.09 L503.25,359.50 L503.41,361.04 L503.57,362.07 L503.74,362.95 L503.91,363.85 L504.10,364.12 L504.29,363.53 L504.50,363.66 L504.66,364.14 L504.83,363.43 L505.01,362.54 L505.20,361.82 L505.39,361.30 L505.58,360.11 L505.78,359.03 L505.98,357.38 L506.18,356.73 L506.38,355.42 L506.57,354.46 L506.76,352.86 L506.95,351.08 L507.13,350.00 L507.30,349.48 L507.45,347.95 L507.61,347.32 L507.75,346.01 L507.90,344.96 L508.04,343.93 L508.18,342.29 L508.32,341.44 L508.46,340.35 L508.59,339.53 L508.72,337.56 L508.85,336.86 L508.99,335.83 L509.11,335.28 L509.24,334.18 L509.37,333.49 L509.50,331.93 L509.78,330.47 L510.04,329.26 L510.29,327.20 L510.54,326.37 L510.80,325.92 L511.08,325.25 L511.40,325.54 L511.70,325.58 L512.03,326.16 L512.37,327.86 L512.72,329.28 L513.08,330.98 L513.45,332.84 L513.82,334.01 L514.20,333.11 L514.38,332.62 L514.56,331.76 L514.75,331.33 L514.93,330.75 L515.12,329.72 L515.32,328.94 L515.51,327.38 L515.70,326.59 L515.90,325.15 L516.09,324.30 L516.28,323.23 L516.48,321.17 L516.67,319.67 L516.85,318.76 L517.04,317.88 L517.22,316.83 L517.40,314.96 L517.67,314.61 L517.94,312.72 L518.21,312.32 L518.47,311.30 L518.73,310.28 L518.99,309.22 L519.24,308.02 L519.49,306.70 L519.73,305.96 L519.97,305.61 L520.20,304.12 L520.47,302.90 L520.73,301.68 L520.97,300.67 L521.21,299.62 L521.44,299.14 L521.67,298.03 L521.91,297.00 L522.15,296.32 L522.40,294.63 L522.98,294.16 L523.56,294.00 L524.17,293.63 L524.80,291.40 L524.91,290.42 L525.01,290.11 L525.12,289.12 L525.24,288.06 L525.35,287.20 L525.46,286.09 L525.58,284.87 L525.70,283.94 L525.82,282.18 L525.93,282.12 L526.05,279.50 L526.17,277.79 L526.29,277.26 L526.41,275.41 L526.53,274.36 L526.64,273.74 L526.76,271.95 L526.87,271.13 L526.98,270.25 L527.09,268.60 L527.20,269.09 L527.30,267.53 L527.41,266.92 L527.50,265.94 L527.60,266.14 L527.79,265.72 L527.97,266.06 L528.15,265.48 L528.31,267.09 L528.48,267.49 L528.63,269.38 L528.78,270.55 L528.93,271.37 L529.07,274.03 L529.22,275.43 L529.36,276.65 L529.50,278.29 L529.56,278.95 L529.63,280.17 L529.69,281.25 L529.75,282.04 L529.82,282.10 L529.88,282.52 L529.94,283.89 L530.00,285.10 L530.06,285.60 L530.12,286.47 L530.17,287.48 L530.23,288.75 L530.29,289.90 L530.34,290.84 L530.40,291.99 L530.46,292.38 L530.51,294.18 L530.57,294.93 L530.62,296.27 L530.68,297.19 L530.73,297.82 L530.78,299.18 L530.84,300.84 L530.89,301.47 L530.95,303.51 L531.00,304.42 L531.04,305.33 L531.08,306.03 L531.11,307.24 L531.15,307.77 L531.19,308.78 L531.22,309.32 L531.26,310.44 L531.29,311.58 L531.33,312.61 L531.37,314.06 L531.40,315.12 L531.44,316.24 L531.47,316.67 L531.51,318.18 L531.54,319.12 L531.58,320.37 L531.61,321.22 L531.65,322.30 L531.68,323.34 L531.71,324.53 L531.75,325.57 L531.78,326.35 L531.82,327.11 L531.85,329.24 L531.89,330.35 L531.92,331.01 L531.95,331.80 L531.99,332.78 L532.02,333.93 L532.06,335.36 L532.09,336.14 L532.13,337.10 L532.16,337.95 L532.20,339.03 L532.23,339.51 L532.26,340.56 L532.30,342.03 L532.35,343.38 L532.40,344.31 L532.44,344.84 L532.49,346.94 L532.54,347.50 L532.59,349.34 L532.63,350.77 L532.68,351.50 L532.73,353.12 L532.77,354.50 L532.82,355.16 L532.87,356.76 L532.91,357.00 L532.96,358.30 L533.01,359.59 L533.06,361.11 L533.10,361.93 L533.15,362.86 L533.20,364.26 L533.25,364.20 L533.30,365.33 L533.35,365.79 L533.40,366.98 L533.45,366.91 L533.50,368.11 L533.55,368.49 L533.60,368.66 L533.72,369.10 L533.83,368.53 L533.95,368.33 L534.07,367.77 L534.19,366.69 L534.31,365.28 L534.44,364.16 L534.56,362.27 L534.69,361.02 L534.82,358.91 L534.96,358.13 L535.10,356.29 L535.20,355.66 L535.29,354.30 L535.39,352.87 L535.49,352.24 L535.59,351.01 L535.69,349.94 L535.80,348.69 L535.90,347.65 L536.01,346.20 L536.11,345.60 L536.22,344.26 L536.33,343.89 L536.44,342.32 L536.55,341.77 L536.66,340.40 L536.77,339.25 L536.89,338.29 L537.00,337.73 L537.35,336.64 L537.70,333.95 L538.07,333.73 L538.44,332.75 L538.82,331.96 L539.20,331.61 L540.42,332.00 L541.60,333.04 L542.53,333.27 L543.50,335.50 L543.85,336.03 L544.23,337.61 L544.64,337.50 L545.05,339.72 L545.47,340.78 L545.89,342.15 L546.30,342.45 L547.23,343.37 L548.17,344.25 L549.10,343.79 L549.66,344.48 L550.22,345.08 L550.79,346.82 L551.35,347.65 L551.90,348.95 L552.15,349.65 L552.41,351.01 L552.67,352.06 L552.92,352.59 L553.18,354.46 L553.43,355.23 L553.68,356.07 L553.92,357.97 L554.16,358.13 L554.38,359.22 L554.60,360.91 L555.02,361.22 L555.37,362.55 L555.71,364.64 L556.08,364.63 L556.50,365.62 L557.00,364.42 L557.56,363.79 L558.14,363.39 L558.73,361.40 L559.30,360.02 L559.55,359.35 L559.81,358.63 L560.06,357.56 L560.32,357.25 L560.57,355.51 L560.83,354.85 L561.08,353.76 L561.34,353.13 L561.59,351.57 L561.85,350.18 L562.10,348.47 L562.26,349.12 L562.43,347.14 L562.59,346.43 L562.76,345.63 L562.92,345.02 L563.09,343.13 L563.25,342.21 L563.42,341.81 L563.58,339.81 L563.75,338.37 L563.91,337.60 L564.08,336.64 L564.24,335.84 L564.41,334.23 L564.57,333.86 L564.74,332.61 L564.90,332.25 L565.37,330.77 L565.85,328.79 L566.32,326.46 L566.80,326.57 L567.26,326.51 L567.70,326.93 L567.84,326.55 L567.98,328.16 L568.12,328.85 L568.26,329.68 L568.39,330.98 L568.52,332.59 L568.65,333.57 L568.78,335.08 L568.91,336.54 L569.04,338.48 L569.17,339.69 L569.30,340.46 L569.43,342.45 L569.56,343.37 L569.69,344.25 L569.83,344.45 L569.96,345.36 L570.10,345.61 L570.25,345.24 L570.40,344.80 L570.55,343.41 L570.70,342.55 L570.86,342.06 L571.01,340.13 L571.17,338.28 L571.32,337.27 L571.48,335.29 L571.63,333.81 L571.79,332.55 L571.94,331.56 L572.10,330.12 L572.25,328.88 L572.40,328.00 L572.55,327.84 L572.70,327.50 L572.84,327.89 L572.97,328.17 L573.11,329.40 L573.24,329.94 L573.38,331.08 L573.51,332.39 L573.64,334.56 L573.77,335.41 L573.91,337.78 L574.04,339.17 L574.17,341.05 L574.30,341.58 L574.43,343.11 L574.56,343.88 L574.70,345.19 L574.83,345.64 L574.96,345.49 L575.10,346.01 L575.21,345.89 L575.31,345.32 L575.42,345.03 L575.52,344.12 L575.63,343.28 L575.73,342.80 L575.83,341.73 L575.94,340.75 L576.04,339.50 L576.15,337.86 L576.25,336.25 L576.36,335.54 L576.47,333.46 L576.57,332.88 L576.68,331.02 L576.79,330.27 L576.90,328.57 L577.01,327.30 L577.13,326.15 L577.24,324.83 L577.36,324.07 L577.48,323.64 L577.60,323.51 L578.60,320.93 L579.67,321.24 L580.70,321.23 L581.03,320.22 L581.35,319.13 L581.67,317.37 L581.99,316.39 L582.31,315.10 L582.61,313.98 L582.92,312.41 L583.21,311.86 L583.50,311.71 L583.78,311.76 L584.04,312.67 L584.30,312.74 L584.55,314.73 L584.80,314.98 L585.04,316.29 L585.29,317.62 L585.54,319.42 L585.80,320.64 L585.92,322.28 L586.03,322.81 L586.14,323.79 L586.25,324.58 L586.36,325.55 L586.47,327.61 L586.58,328.94 L586.69,329.02 L586.80,331.00 L586.91,332.66 L587.03,333.66 L587.14,334.77 L587.26,335.73 L587.38,336.42 L587.51,338.24 L587.64,338.86 L587.77,340.20 L587.91,340.42 L588.05,341.40 L588.20,342.22 L588.92,342.43 L589.76,341.97 L590.62,339.70 L591.38,338.55 L591.90,337.36"/>
<rect x="78.9" y="16.3" width="514.1" height="379.0" fill="none" stroke="#111" stroke-width="1.6"/>
<line x1="78.90" y1="395.3" x2="78.90" y2="403.5" stroke="#111" stroke-width="1.6"/>
<text x="78.90" y="423.3" text-anchor="middle" font-size="18.6" fill="#111">4000</text>
<line x1="143.16" y1="395.3" x2="143.16" y2="399.5" stroke="#111" stroke-width="1.6"/>
<line x1="207.43" y1="395.3" x2="207.43" y2="403.5" stroke="#111" stroke-width="1.6"/>
<text x="207.43" y="423.3" text-anchor="middle" font-size="18.6" fill="#111">3200</text>
<line x1="271.69" y1="395.3" x2="271.69" y2="399.5" stroke="#111" stroke-width="1.6"/>
<line x1="335.95" y1="395.3" x2="335.95" y2="403.5" stroke="#111" stroke-width="1.6"/>
<text x="335.95" y="423.3" text-anchor="middle" font-size="18.6" fill="#111">2400</text>
<line x1="400.21" y1="395.3" x2="400.21" y2="399.5" stroke="#111" stroke-width="1.6"/>
<line x1="464.48" y1="395.3" x2="464.48" y2="403.5" stroke="#111" stroke-width="1.6"/>
<text x="464.48" y="423.3" text-anchor="middle" font-size="18.6" fill="#111">1600</text>
<line x1="528.74" y1="395.3" x2="528.74" y2="399.5" stroke="#111" stroke-width="1.6"/>
<line x1="593.00" y1="395.3" x2="593.00" y2="403.5" stroke="#111" stroke-width="1.6"/>
<text x="593.00" y="423.3" text-anchor="middle" font-size="18.6" fill="#111">800</text>
<text x="253.5" y="458.7" font-size="18.6" fill="#111">Wavenumber (cm<tspan font-size="11" dx="1.5" dy="-8">-1</tspan><tspan dx="1.5" dy="8">)</tspan></text>
<text transform="translate(43.1,211) rotate(-90)" text-anchor="middle" font-size="18.6" fill="#111">Transmittance (%)</text>
<text x="9" y="19.0" style="font-family:'Liberation Serif', serif" font-size="18" fill="#111">(a)</text>
<line x1="373.1" y1="27.5" x2="415.9" y2="27.5" stroke="#2a2a2a" stroke-width="1.6"/>
<text x="420.0" y="33.6" font-size="16.5" fill="#111">HAF-SA</text>
<line x1="373.1" y1="50.8" x2="415.9" y2="50.8" stroke="#ff8080" stroke-width="1.6"/>
<text x="420.0" y="56.9" font-size="16.5" fill="#111">MHAF-SA</text>
<line x1="373.1" y1="73.9" x2="415.9" y2="73.9" stroke="#8a8aff" stroke-width="1.6"/>
<text x="420.0" y="80.0" font-size="16.5" fill="#111">MHAF-SA (CV loaded)</text>
<text x="163.5" y="187.4" font-size="10.8" fill="#3a3a3a">3370</text>
<text x="433.2" y="228.7" font-size="10.8" fill="#3a3a3a">1718</text>
<text x="459" y="209.3" font-size="10.8" fill="#3a3a3a">1610</text>
<text x="488.3" y="215.1" font-size="10.8" fill="#3a3a3a">1410</text>
<text x="515.6" y="240.5" font-size="10.8" fill="#3a3a3a">1238</text>
<text x="547.1" y="310.2" font-size="10.8" fill="#3a3a3a">1028</text>
<line x1="465.4" y1="217" x2="469.46" y2="262.14" stroke="#444" stroke-width="0.8"/>
<polygon points="470.4,272.6 466.67,262.39 472.25,261.89" fill="#111"/>
<line x1="493.6" y1="228.1" x2="498.87" y2="276.96" stroke="#444" stroke-width="0.8"/>
<polygon points="500.0,287.4 496.09,277.26 501.66,276.66" fill="#111"/>
<line x1="525.3" y1="247.6" x2="531.46" y2="316.14" stroke="#444" stroke-width="0.8"/>
<polygon points="532.4,326.6 528.67,316.39 534.25,315.89" fill="#111"/>
<path fill="none" stroke="#000" stroke-width="1.2" stroke-linejoin="round" d="M79.00,651.00 L79.64,650.97 L80.52,651.46 L81.57,649.54 L82.72,651.10 L83.90,651.67 L85.06,651.41 L86.11,651.05 L87.00,651.20 L88.34,651.50 L89.39,650.89 L90.37,650.02 L91.50,650.05 L92.58,650.11 L93.75,650.80 L94.94,651.43 L96.11,651.38 L97.20,652.04 L98.43,650.91 L99.57,651.13 L100.68,652.10 L101.80,651.37 L102.98,650.67 L104.17,651.55 L105.33,651.56 L106.40,652.19 L107.64,652.02 L108.76,650.87 L109.80,652.08 L110.77,650.06 L111.68,649.89 L112.60,650.37 L113.54,650.58 L114.49,650.75 L115.50,652.11 L116.31,652.75 L117.17,652.60 L118.04,653.23 L118.90,654.02 L120.01,654.68 L121.12,654.23 L122.30,654.79 L123.28,654.02 L124.33,653.16 L125.36,652.29 L126.30,651.18 L127.82,651.88 L129.20,652.25 L130.10,652.48 L130.98,652.85 L132.00,653.35 L132.93,654.22 L133.96,654.37 L135.01,654.83 L136.00,655.45 L136.86,656.54 L137.66,657.24 L138.48,657.45 L139.40,658.23 L140.24,658.52 L141.15,658.50 L142.10,659.50 L143.06,659.39 L144.00,660.37 L145.13,660.65 L146.25,661.36 L147.39,660.97 L148.60,661.96 L149.46,662.43 L150.35,661.65 L151.27,663.14 L152.19,664.70 L153.11,665.72 L154.00,665.19 L154.82,666.23 L155.57,667.63 L156.32,666.95 L157.11,668.71 L158.02,669.31 L159.10,671.19 L159.86,671.15 L160.70,671.44 L161.61,671.12 L162.56,672.86 L163.54,673.51 L164.53,672.34 L165.51,674.06 L166.46,674.27 L167.36,674.27 L168.20,674.72 L169.33,677.03 L170.43,675.89 L171.49,676.75 L172.50,677.39 L173.45,676.65 L174.32,679.29 L175.10,678.88 L176.49,679.57 L177.50,680.67 L178.50,680.33 L179.42,680.10 L180.34,679.40 L181.90,679.03 L182.67,679.36 L183.58,679.47 L184.59,678.07 L185.67,677.71 L186.79,678.51 L187.92,678.64 L189.02,678.98 L190.05,678.58 L191.00,678.18 L192.08,678.38 L193.07,678.05 L194.00,676.87 L194.90,678.66 L195.83,677.26 L196.82,677.55 L197.90,676.99 L198.81,677.08 L199.77,676.04 L200.77,675.86 L201.79,675.59 L202.83,675.13 L203.89,674.79 L204.94,674.17 L205.98,674.17 L207.00,673.72 L208.01,673.10 L209.02,673.70 L210.03,672.51 L211.04,671.68 L212.06,671.86 L213.07,670.47 L214.08,671.67 L215.09,670.72 L216.10,670.96 L217.10,670.59 L218.08,670.09 L219.05,670.51 L220.02,669.79 L221.00,669.63 L222.00,669.71 L223.02,669.38 L224.09,669.16 L225.20,668.57 L226.18,668.37 L227.24,667.94 L228.35,667.08 L229.50,667.31 L230.66,667.78 L231.81,667.57 L232.92,667.22 L233.98,666.75 L234.96,666.83 L235.84,667.31 L236.60,665.99 L238.07,666.86 L238.93,667.98 L239.56,668.42 L240.30,668.42 L241.03,668.33 L241.76,667.53 L242.48,665.84 L243.23,665.06 L244.00,664.83 L245.06,663.19 L246.20,662.76 L247.29,663.01 L248.20,661.44 L248.67,660.31 L249.06,659.26 L249.39,658.36 L249.69,656.63 L249.98,655.88 L250.30,656.00 L250.66,656.00 L250.96,656.43 L251.29,658.42 L251.71,659.21 L252.30,660.89 L252.97,661.75 L253.77,662.07 L254.66,663.83 L255.58,664.61 L256.48,665.20 L257.30,664.28 L258.08,663.72 L258.85,661.83 L259.61,663.61 L260.31,661.09 L260.95,660.78 L261.50,659.81 L262.10,660.51 L262.42,662.12 L263.20,661.81 L264.11,661.89 L265.26,661.91 L266.54,661.98 L267.83,662.02 L269.00,660.65 L270.05,661.09 L271.06,660.55 L272.04,659.27 L273.01,659.68 L274.00,659.16 L274.79,659.76 L275.38,659.09 L276.06,659.62 L277.17,659.08 L279.00,659.63 L279.68,658.52 L280.45,659.52 L281.30,658.35 L282.21,659.21 L283.18,658.16 L284.20,658.59 L285.26,658.11 L286.35,657.83 L287.46,657.83 L288.59,658.04 L289.72,657.41 L290.84,657.40 L291.96,656.68 L293.05,657.24 L294.10,657.22 L295.12,656.07 L296.09,656.85 L297.00,656.79 L298.20,656.06 L299.38,656.65 L300.53,656.64 L301.66,656.19 L302.76,657.07 L303.84,656.56 L304.88,656.34 L305.90,656.41 L306.90,656.56 L307.87,655.69 L308.81,655.45 L309.72,656.43 L310.60,657.02 L311.79,657.34 L312.87,656.72 L313.86,656.86 L314.79,657.21 L315.69,656.98 L316.60,658.43 L317.53,657.24 L318.52,657.59 L319.60,657.51 L320.57,657.95 L321.63,657.00 L322.74,657.36 L323.89,656.87 L325.05,655.94 L326.20,655.32 L327.31,655.08 L328.35,654.91 L329.32,655.23 L330.18,654.83 L330.90,653.90 L332.52,653.05 L333.21,654.43 L333.90,653.20 L334.95,654.90 L335.99,656.56 L336.80,656.07 L337.03,655.38 L337.19,654.26 L337.31,652.10 L337.39,651.28 L337.45,649.92 L337.52,648.69 L337.60,648.17 L337.72,648.49 L337.79,650.74 L337.90,652.45 L338.10,653.94 L338.89,653.57 L339.80,654.48 L340.32,655.18 L340.81,656.99 L341.20,657.10 L341.35,655.54 L341.45,654.76 L341.52,652.98 L341.60,651.49 L341.70,651.18 L341.75,652.69 L341.81,652.18 L341.86,653.46 L341.92,654.79 L341.98,656.22 L342.04,657.54 L342.11,659.02 L342.17,661.00 L342.24,662.16 L342.30,662.74 L342.37,664.21 L342.43,664.22 L342.50,664.63 L342.60,664.41 L342.69,664.43 L342.79,662.38 L342.89,662.30 L342.99,659.68 L343.09,658.47 L343.19,657.81 L343.30,655.80 L343.40,655.91 L343.73,653.80 L344.06,652.22 L344.40,650.65 L345.40,650.23 L345.53,651.06 L345.65,652.76 L345.76,654.06 L345.87,655.10 L345.98,655.31 L346.10,657.72 L346.46,656.38 L346.90,654.37 L348.30,656.07 L349.36,657.36 L350.50,658.04 L351.13,657.76 L351.74,656.48 L352.50,655.74 L353.16,654.51 L353.98,655.14 L355.90,654.91 L356.60,655.42 L357.41,654.70 L358.30,654.94 L359.28,654.63 L360.32,654.13 L361.40,654.47 L362.53,653.96 L363.67,654.85 L364.82,653.55 L365.96,654.01 L367.08,653.42 L368.17,653.22 L369.20,653.80 L370.31,652.96 L371.47,653.71 L372.64,652.71 L373.83,652.25 L375.02,652.63 L376.19,652.91 L377.32,652.90 L378.41,652.45 L379.44,652.21 L380.39,653.38 L381.25,652.07 L382.00,652.76 L383.85,652.62 L384.71,652.63 L385.90,653.03 L386.90,653.45 L388.06,653.67 L389.30,652.86 L390.54,654.25 L391.70,653.69 L392.70,653.63 L393.95,653.21 L395.01,652.70 L395.90,652.03 L396.60,651.90 L397.60,650.22 L397.49,651.90 L398.60,652.01 L399.27,652.26 L400.10,653.14 L401.06,652.81 L402.13,651.89 L403.28,652.40 L404.48,651.98 L405.70,652.03 L406.93,652.78 L408.14,651.85 L409.30,652.32 L410.34,652.30 L411.42,651.89 L412.52,651.54 L413.64,652.18 L414.76,652.22 L415.88,651.73 L416.98,652.08 L418.07,651.93 L419.12,651.51 L420.14,652.10 L421.10,651.76 L422.39,651.68 L423.67,651.60 L424.92,651.29 L426.12,651.41 L427.24,651.06 L428.26,651.78 L429.15,652.00 L429.90,651.69 L431.24,653.21 L431.80,654.26 L432.41,655.11 L433.08,657.02 L433.74,657.66 L434.30,658.66 L434.79,658.17 L435.16,656.18 L435.70,654.66 L436.32,653.95 L437.06,652.68 L437.87,652.46 L438.70,650.84 L439.86,651.50 L441.09,651.51 L442.30,652.81 L442.86,654.15 L443.39,655.08 L443.91,655.71 L444.46,656.94 L445.04,657.43 L445.70,659.04 L446.33,658.63 L447.01,660.57 L447.73,661.34 L448.47,661.05 L449.22,663.56 L449.97,663.16 L450.70,663.67 L451.75,664.65 L452.86,665.08 L453.94,666.20 L454.92,668.17 L455.70,667.56 L457.30,667.40 L458.05,667.10 L458.90,668.01 L459.80,668.79 L460.77,670.21 L461.78,670.75 L462.70,669.59 L463.41,669.21 L464.03,667.72 L464.80,667.63 L465.85,667.23 L467.04,666.62 L468.20,665.88 L469.27,665.28 L470.31,664.66 L471.30,664.57 L471.77,665.80 L472.23,666.63 L472.68,667.60 L473.10,669.03 L473.51,669.33 L473.90,670.42 L474.18,671.52 L474.44,673.35 L474.69,674.90 L474.93,674.79 L475.16,676.87 L475.38,677.55 L475.60,678.05 L475.80,678.66 L475.99,679.65 L476.15,681.59 L476.30,682.24 L476.44,683.19 L476.59,684.13 L476.74,686.20 L476.91,686.25 L477.10,687.43 L477.54,688.68 L478.02,690.28 L478.54,691.88 L479.10,692.03 L479.36,693.86 L479.64,693.24 L479.92,695.06 L480.21,696.79 L480.51,697.61 L480.81,697.93 L481.11,699.17 L481.41,700.34 L481.70,701.44 L481.97,702.26 L482.24,703.67 L482.52,704.33 L482.80,705.85 L483.08,706.71 L483.35,707.15 L483.62,707.41 L483.86,709.44 L484.09,710.61 L484.30,710.76 L484.52,712.32 L484.70,714.10 L484.86,714.70 L484.99,715.36 L485.13,715.91 L485.26,716.80 L485.42,718.83 L485.60,720.55 L485.72,720.52 L485.84,722.92 L485.97,722.76 L486.10,722.82 L486.23,724.67 L486.37,724.31 L486.51,726.05 L486.65,728.01 L486.79,728.30 L486.93,729.77 L487.08,730.14 L487.22,731.62 L487.36,732.60 L487.50,733.48 L487.61,734.94 L487.72,736.11 L487.83,736.75 L487.94,737.35 L488.05,738.17 L488.16,739.77 L488.28,742.53 L488.39,742.04 L488.50,743.68 L488.61,744.51 L488.72,746.14 L488.84,747.47 L488.95,747.69 L489.06,748.96 L489.17,750.92 L489.28,749.82 L489.39,751.20 L489.50,751.92 L491.40,751.03 L492.57,750.82 L494.00,750.68 L494.31,749.45 L494.64,748.58 L494.99,747.50 L495.36,746.86 L495.73,745.83 L496.11,744.83 L496.49,743.42 L496.88,742.00 L497.26,741.38 L497.63,740.74 L498.00,739.02 L498.30,738.35 L498.60,737.15 L498.89,736.37 L499.18,734.69 L499.48,734.03 L499.77,731.66 L500.06,730.98 L500.35,731.14 L500.65,729.85 L500.95,728.98 L501.26,728.56 L501.58,726.06 L501.90,726.20 L502.29,724.99 L502.70,724.18 L503.11,722.40 L503.54,722.30 L503.97,720.95 L504.40,719.70 L504.83,719.26 L505.26,718.42 L505.68,717.33 L506.09,716.60 L506.50,714.60 L506.94,714.13 L507.38,712.61 L507.82,711.78 L508.25,710.22 L508.68,709.46 L509.10,708.31 L509.52,707.27 L509.92,706.38 L510.32,705.86 L510.70,704.99 L511.22,704.03 L511.71,702.55 L512.18,701.38 L512.63,700.70 L513.08,700.43 L513.54,698.82 L514.00,698.13 L514.82,698.04 L515.64,696.77 L516.47,696.45 L517.30,696.38 L517.86,695.41 L518.43,695.51 L519.00,693.36 L519.57,692.75 L520.14,691.40 L520.70,690.62 L521.37,690.25 L522.03,688.60 L522.68,687.75 L523.34,687.33 L524.00,687.04 L524.82,685.92 L525.64,685.99 L526.47,683.20 L527.30,683.90 L528.42,682.91 L529.55,683.62 L530.70,683.76 L531.21,685.27 L531.73,685.02 L532.26,687.63 L532.79,689.05 L533.31,688.84 L533.82,689.70 L534.30,691.32 L534.93,691.01 L535.52,690.07 L536.10,687.88 L536.68,687.50 L537.30,686.76 L537.71,687.22 L538.12,688.14 L538.55,688.39 L538.98,689.57 L539.41,690.67 L539.85,691.91 L540.28,692.67 L540.70,694.82 L541.00,695.63 L541.31,694.95 L541.61,696.81 L541.91,698.62 L542.21,699.06 L542.51,699.98 L542.80,701.46 L543.10,701.50 L543.40,702.64 L543.70,704.42 L544.00,705.10 L544.33,705.78 L544.67,707.01 L545.02,709.40 L545.36,709.06 L545.70,711.08 L546.04,712.46 L546.37,713.39 L546.69,714.18 L547.00,713.97 L547.30,715.21 L548.19,715.04 L549.00,713.28 L549.80,712.63 L550.60,714.40 L551.40,713.91 L552.30,714.48 L552.73,714.37 L553.19,713.20 L553.66,712.32 L554.15,711.35 L554.65,710.72 L555.17,709.12 L555.70,708.60 L556.08,707.70 L556.48,707.71 L556.88,705.85 L557.30,704.01 L557.72,703.99 L558.14,701.38 L558.56,701.00 L558.98,699.53 L559.39,699.40 L559.80,698.16 L560.16,697.18 L560.53,695.51 L560.89,695.19 L561.25,694.01 L561.60,693.58 L561.96,692.05 L562.31,690.25 L562.66,689.85 L563.01,689.44 L563.36,688.94 L563.70,687.95 L564.93,686.48 L566.13,687.33 L567.30,686.42 L568.21,686.21 L569.12,683.73 L569.98,684.94 L570.70,683.26 L572.30,684.49 L573.26,683.24 L574.38,682.13 L575.30,681.68 L575.48,681.67 L575.63,683.24 L575.76,682.83 L575.87,683.94 L575.97,684.54 L576.06,685.35 L576.14,687.27 L576.22,687.32 L576.31,688.68 L576.40,690.83 L576.50,693.69 L576.53,694.51 L576.57,694.91 L576.60,695.77 L576.63,696.67 L576.66,697.48 L576.70,698.43 L576.73,699.38 L576.76,701.06 L576.79,701.88 L576.82,702.01 L576.85,704.78 L576.89,706.06 L576.92,706.78 L576.95,708.49 L576.98,709.70 L577.01,710.38 L577.04,711.97 L577.07,713.18 L577.11,713.84 L577.14,715.59 L577.17,716.24 L577.20,717.91 L577.24,719.80 L577.27,720.23 L577.30,721.09 L577.34,723.38 L577.37,723.68 L577.41,725.08 L577.44,726.21 L577.48,726.26 L577.51,726.87 L577.55,727.74 L577.59,729.80 L577.62,729.09 L577.66,729.86 L577.70,729.56 L577.80,730.05 L577.89,729.62 L578.00,729.36 L578.10,729.98 L578.21,728.59 L578.32,726.99 L578.43,725.52 L578.54,724.84 L578.66,723.23 L578.77,721.92 L578.88,720.12 L578.99,719.23 L579.09,717.79 L579.20,715.64 L579.30,714.79 L579.41,713.63 L579.52,713.15 L579.61,711.41 L579.71,710.06 L579.80,709.73 L579.90,708.33 L579.99,707.29 L580.09,706.47 L580.19,705.78 L580.31,703.96 L580.43,703.98 L580.56,702.10 L580.70,702.25 L580.93,699.83 L581.17,699.16 L581.42,698.66 L581.69,696.29 L581.97,696.22 L582.27,695.23 L582.57,694.12 L582.88,693.55 L583.20,692.91 L583.82,690.47 L584.50,690.11 L585.20,689.01 L585.88,689.04 L586.50,687.31 L587.96,687.10 L589.00,687.22"/>
<path fill="none" stroke="#ff0000" stroke-width="1.2" stroke-linejoin="round" d="M79.00,728.24 L79.61,729.16 L80.38,728.62 L81.29,727.49 L82.31,728.44 L83.41,728.26 L84.58,727.44 L85.77,727.20 L86.98,727.48 L88.17,727.27 L89.32,727.40 L90.40,727.58 L91.44,727.55 L92.49,727.16 L93.54,727.42 L94.59,727.94 L95.64,727.36 L96.69,727.74 L97.74,728.40 L98.77,727.90 L99.79,728.18 L100.80,727.47 L101.80,727.99 L102.91,727.41 L104.04,727.51 L105.19,727.67 L106.33,726.78 L107.45,726.61 L108.53,726.97 L109.55,726.62 L110.50,726.39 L111.35,726.41 L112.10,725.86 L113.72,726.92 L114.58,726.93 L115.50,727.90 L116.43,727.87 L117.39,730.07 L118.41,729.83 L119.50,730.57 L120.48,730.67 L121.54,730.53 L122.63,730.32 L123.67,731.00 L124.60,729.55 L125.81,730.07 L126.84,729.48 L128.00,728.64 L129.11,729.36 L130.34,728.31 L131.55,729.48 L132.60,730.36 L133.66,730.65 L134.53,731.63 L135.40,732.95 L135.95,733.93 L136.47,734.69 L137.01,736.07 L137.61,735.90 L138.30,737.33 L138.99,738.28 L139.77,738.92 L140.61,739.30 L141.44,740.75 L142.22,741.68 L142.90,741.75 L143.64,742.78 L144.17,743.75 L144.77,744.72 L145.70,745.38 L146.09,745.82 L146.52,747.46 L147.00,747.82 L147.50,748.48 L148.03,749.93 L148.58,750.06 L149.14,751.66 L149.71,751.78 L150.26,752.92 L150.81,754.28 L151.33,754.75 L151.83,755.50 L152.30,756.56 L152.93,758.19 L153.52,758.17 L154.09,759.16 L154.63,761.24 L155.17,761.69 L155.69,762.68 L156.22,763.41 L156.75,764.29 L157.30,765.70 L157.86,765.65 L158.42,766.90 L158.98,768.16 L159.54,769.24 L160.10,769.57 L160.66,770.63 L161.21,771.45 L161.76,772.41 L162.30,773.37 L162.83,774.21 L163.33,774.74 L163.82,775.35 L164.31,777.28 L164.80,778.59 L165.31,778.06 L165.84,780.19 L166.40,780.50 L167.00,781.82 L167.64,782.45 L168.32,783.09 L169.03,784.28 L169.77,784.41 L170.51,785.69 L171.27,786.80 L172.02,787.32 L172.77,788.07 L173.50,788.73 L174.43,790.09 L175.36,790.61 L176.29,791.71 L177.21,792.24 L178.14,792.44 L179.07,793.17 L180.00,792.89 L181.10,793.25 L182.23,793.85 L183.35,793.22 L184.45,792.83 L185.51,792.27 L186.50,792.75 L187.76,792.68 L188.85,793.31 L189.99,793.94 L191.40,792.82 L192.18,793.25 L193.05,793.28 L194.00,792.79 L194.98,791.99 L195.97,791.36 L196.95,789.68 L197.88,789.53 L198.74,788.84 L199.50,788.95 L200.41,788.06 L201.13,786.60 L201.74,786.50 L202.35,785.97 L203.07,784.92 L204.00,784.51 L204.68,783.80 L205.42,782.87 L206.21,782.85 L207.04,781.85 L207.91,780.72 L208.79,780.84 L209.68,780.30 L210.57,779.10 L211.45,779.00 L212.30,778.10 L213.14,778.22 L213.98,776.79 L214.82,776.68 L215.66,776.31 L216.50,775.68 L217.34,774.79 L218.18,774.16 L219.02,774.09 L219.86,773.66 L220.70,772.39 L221.55,771.47 L222.42,771.57 L223.30,769.87 L224.19,769.78 L225.06,769.13 L225.92,768.81 L226.76,768.91 L227.55,767.47 L228.30,766.88 L229.00,766.58 L229.87,766.13 L230.62,764.64 L231.28,764.02 L231.91,764.14 L232.54,763.07 L233.23,761.94 L234.00,761.70 L234.89,761.32 L235.87,760.72 L236.89,760.68 L237.92,759.68 L238.93,759.32 L239.86,759.92 L240.70,758.68 L241.91,758.20 L242.91,757.02 L243.83,755.66 L244.80,756.14 L245.86,756.24 L246.95,756.93 L248.01,757.77 L249.00,758.09 L249.71,758.93 L250.37,760.31 L250.99,761.88 L251.63,761.78 L252.30,763.64 L252.82,764.11 L253.36,765.37 L253.91,766.10 L254.46,767.67 L255.00,767.65 L255.52,768.45 L256.00,770.59 L256.97,771.20 L257.83,772.21 L258.70,772.31 L259.13,771.98 L259.51,771.13 L259.91,769.97 L260.34,769.26 L260.86,768.13 L261.50,766.42 L262.18,765.82 L262.96,765.82 L263.82,764.32 L264.71,764.39 L265.61,762.51 L266.49,762.49 L267.30,761.93 L268.16,760.88 L268.96,760.09 L269.74,759.66 L270.54,759.25 L271.38,758.41 L272.30,758.10 L273.11,757.21 L273.89,756.99 L274.70,756.54 L275.56,756.61 L276.54,756.59 L277.67,755.68 L279.00,754.76 L279.75,754.84 L280.55,754.07 L281.40,753.82 L282.29,754.14 L283.23,753.25 L284.19,752.22 L285.18,753.14 L286.20,751.71 L287.23,751.35 L288.28,751.36 L289.33,751.06 L290.39,750.57 L291.45,749.80 L292.50,749.24 L293.42,749.50 L294.36,748.99 L295.32,748.79 L296.29,748.21 L297.27,748.02 L298.26,747.02 L299.25,747.38 L300.26,747.30 L301.26,746.44 L302.27,746.50 L303.29,746.54 L304.30,746.13 L305.30,745.73 L306.31,745.55 L307.31,744.97 L308.30,745.00 L309.30,744.98 L310.32,744.56 L311.36,744.25 L312.40,744.64 L313.46,743.85 L314.51,744.06 L315.56,743.48 L316.61,743.87 L317.64,742.33 L318.65,743.87 L319.64,743.06 L320.61,742.66 L321.54,742.04 L322.44,742.52 L323.29,742.24 L324.10,742.29 L325.46,741.73 L326.73,742.11 L327.93,741.98 L329.05,741.86 L330.09,741.01 L331.04,740.77 L331.92,740.88 L332.70,741.68 L333.40,741.12 L335.16,742.03 L335.90,741.47 L336.59,743.36 L337.10,745.11 L337.26,744.12 L337.41,742.23 L337.56,741.33 L337.70,739.98 L337.84,738.47 L337.97,737.87 L338.10,737.70 L338.23,737.51 L338.36,738.90 L338.47,739.35 L338.58,741.02 L338.69,742.99 L338.80,743.65 L339.50,744.24 L339.68,745.12 L339.88,746.66 L340.09,747.94 L340.30,749.37 L340.50,750.11 L340.64,749.28 L340.79,748.83 L340.93,747.20 L341.07,745.55 L341.21,744.40 L341.36,741.96 L341.50,741.62 L341.84,742.67 L342.19,744.47 L342.50,745.03 L342.85,747.83 L343.20,748.32 L343.33,747.79 L343.47,746.97 L343.61,745.56 L343.76,744.04 L343.91,742.05 L344.06,741.82 L344.20,740.93 L345.10,740.53 L345.24,741.32 L345.38,742.55 L345.52,743.35 L345.67,744.79 L345.81,745.39 L345.96,747.16 L346.10,747.62 L346.34,746.33 L346.57,745.79 L346.81,742.97 L347.10,742.74 L347.82,743.78 L348.60,744.81 L350.00,746.39 L350.51,745.47 L351.05,743.80 L351.70,742.32 L352.94,742.61 L354.40,742.41 L355.19,741.69 L356.05,741.04 L357.80,740.65 L358.52,740.32 L359.33,741.23 L360.21,740.57 L361.17,741.03 L362.19,740.43 L363.27,740.56 L364.39,741.12 L365.56,740.64 L366.75,739.71 L367.97,740.26 L369.20,740.54 L370.14,740.28 L371.16,740.39 L372.22,740.85 L373.34,740.12 L374.48,740.44 L375.64,740.87 L376.81,739.98 L377.98,740.61 L379.12,740.62 L380.24,740.59 L381.32,740.84 L382.35,741.04 L383.32,740.44 L384.20,741.26 L385.00,740.67 L386.68,740.62 L388.01,740.34 L389.10,739.95 L390.02,740.73 L390.86,740.86 L391.70,741.60 L392.91,740.50 L393.93,740.84 L394.79,739.17 L395.50,739.95 L396.17,738.32 L396.58,736.62 L396.90,736.93 L396.75,737.81 L397.50,739.03 L398.18,738.81 L399.05,739.24 L400.06,739.45 L401.19,739.45 L402.39,738.80 L403.64,738.22 L404.88,738.46 L406.10,738.53 L407.08,738.38 L408.13,737.90 L409.21,737.97 L410.32,737.54 L411.43,737.73 L412.53,737.38 L413.61,737.62 L414.64,737.34 L415.61,737.05 L416.50,737.40 L417.85,736.82 L419.10,736.73 L420.24,736.44 L421.27,736.39 L422.19,736.13 L423.00,736.61 L423.91,736.31 L424.40,737.66 L425.60,737.78 L426.35,737.91 L427.27,738.15 L428.32,738.25 L429.45,738.01 L430.61,737.97 L431.76,738.39 L432.86,738.05 L433.85,738.10 L434.70,737.62 L435.93,737.40 L436.93,736.23 L437.78,735.96 L438.54,735.51 L439.30,735.25 L440.20,735.46 L440.98,736.93 L441.73,738.30 L442.50,738.75 L443.33,739.31 L444.19,740.47 L445.02,741.00 L445.80,741.88 L446.21,742.33 L446.61,743.68 L446.99,744.34 L447.36,745.91 L447.72,746.04 L448.07,747.67 L448.40,748.20 L448.63,749.28 L448.85,750.49 L449.07,752.02 L449.29,752.92 L449.49,754.39 L449.69,754.89 L449.89,756.39 L450.07,757.08 L450.24,758.22 L450.40,759.17 L450.71,760.38 L450.92,761.34 L451.15,761.99 L451.50,763.42 L451.69,763.85 L451.91,764.93 L452.15,766.00 L452.40,767.32 L452.66,768.59 L452.93,769.57 L453.21,770.76 L453.48,772.36 L453.74,772.42 L454.00,773.28 L455.27,774.13 L456.50,772.55 L457.25,771.37 L457.97,770.00 L458.70,769.66 L459.14,769.65 L459.58,771.56 L460.02,772.17 L460.49,774.47 L461.00,774.41 L461.69,776.53 L462.44,777.67 L463.21,778.96 L464.00,778.43 L464.44,778.24 L464.87,777.29 L465.30,777.14 L465.75,775.64 L466.22,774.96 L466.74,773.01 L467.30,772.03 L467.65,770.51 L468.02,770.05 L468.41,768.82 L468.81,768.00 L469.22,766.70 L469.64,766.12 L470.07,765.21 L470.50,763.44 L470.95,762.66 L471.39,761.84 L471.85,761.08 L472.30,759.78 L472.93,759.20 L473.59,758.43 L474.27,756.53 L474.96,755.84 L475.65,754.98 L476.33,754.73 L476.99,753.51 L477.62,753.03 L478.20,753.25 L479.13,753.63 L479.96,752.93 L480.74,754.24 L481.50,756.09 L482.30,756.76 L482.77,757.72 L483.26,758.32 L483.76,759.24 L484.25,759.93 L484.74,761.59 L485.22,762.05 L485.68,763.64 L486.11,765.01 L486.50,765.04 L487.11,766.66 L487.62,767.00 L488.08,768.57 L488.53,769.00 L489.00,769.78 L489.42,771.82 L489.83,772.41 L490.25,773.75 L490.67,774.82 L491.08,775.28 L491.50,776.38 L492.01,775.83 L492.54,774.73 L493.06,772.41 L493.55,771.82 L494.00,771.08 L494.38,771.32 L494.70,772.22 L495.00,773.77 L495.32,775.57 L495.70,776.66 L496.06,778.16 L496.44,778.95 L496.85,780.25 L497.28,782.45 L497.73,782.75 L498.20,782.71 L498.58,782.22 L498.99,781.73 L499.41,780.57 L499.85,779.06 L500.29,778.22 L500.71,776.46 L501.12,775.98 L501.50,775.38 L502.80,774.26 L504.00,775.75 L504.77,776.22 L505.54,777.94 L506.50,777.30 L506.95,777.16 L507.45,776.35 L507.99,775.96 L508.55,774.24 L509.12,773.14 L509.67,772.71 L510.21,771.09 L510.70,770.58 L511.31,769.07 L511.90,768.18 L512.46,766.56 L512.99,766.28 L513.51,765.12 L514.00,764.55 L514.89,765.41 L515.70,766.78 L516.50,767.19 L517.12,767.06 L517.75,765.92 L518.38,764.51 L519.00,763.15 L519.61,761.99 L520.20,760.92 L520.82,760.85 L521.50,760.01 L522.11,758.68 L522.76,757.55 L523.43,756.54 L524.12,756.32 L524.80,755.07 L525.99,754.36 L527.20,754.82 L528.20,755.31 L528.57,756.04 L528.86,756.96 L529.11,757.68 L529.33,758.74 L529.55,760.50 L529.80,761.53 L529.93,761.97 L530.07,763.18 L530.20,764.31 L530.35,765.58 L530.49,766.50 L530.63,768.06 L530.77,767.99 L530.91,768.88 L531.04,771.02 L531.17,772.26 L531.29,772.90 L531.40,774.14 L531.50,775.16 L531.60,775.77 L531.69,777.48 L531.76,778.21 L531.82,779.39 L531.87,780.79 L531.93,781.40 L531.98,782.68 L532.04,783.14 L532.11,784.08 L532.20,785.84 L532.30,786.82 L532.39,788.30 L532.50,789.33 L532.60,790.36 L532.72,791.46 L532.84,792.64 L532.97,793.46 L533.09,795.87 L533.22,796.89 L533.36,797.54 L533.49,798.51 L533.62,799.23 L533.75,800.84 L533.88,801.29 L534.00,801.58 L534.19,801.89 L534.38,800.44 L534.57,800.23 L534.76,798.98 L534.95,796.99 L535.14,795.75 L535.33,794.12 L535.52,792.79 L535.70,792.28 L537.30,792.88 L537.44,793.63 L537.58,793.65 L537.73,795.34 L537.88,795.86 L538.03,797.36 L538.18,798.33 L538.34,799.11 L538.50,800.15 L538.66,801.90 L538.82,803.22 L538.98,804.12 L539.14,805.50 L539.30,807.29 L539.43,808.09 L539.57,807.98 L539.71,809.88 L539.85,810.41 L539.99,811.21 L540.13,812.18 L540.28,813.15 L540.42,814.61 L540.56,815.66 L540.70,815.83 L540.84,817.30 L540.98,817.81 L541.12,820.32 L541.25,821.11 L541.38,821.70 L541.50,823.76 L541.58,824.70 L541.67,825.18 L541.75,826.39 L541.83,826.37 L541.90,828.18 L541.98,828.54 L542.06,830.31 L542.13,830.66 L542.21,831.69 L542.28,832.68 L542.35,834.25 L542.42,835.36 L542.49,835.78 L542.57,837.47 L542.64,837.53 L542.71,839.10 L542.78,840.30 L542.85,842.08 L542.92,842.03 L542.99,843.03 L543.06,844.91 L543.13,846.38 L543.20,847.03 L543.27,847.89 L543.35,848.81 L543.42,849.82 L543.49,850.85 L543.57,852.15 L543.64,852.71 L543.72,854.79 L543.80,855.72 L543.87,856.92 L543.95,858.36 L544.02,859.75 L544.09,859.60 L544.17,860.56 L544.24,862.37 L544.31,862.86 L544.38,864.84 L544.44,865.28 L544.51,866.77 L544.57,867.54 L544.63,869.07 L544.69,869.09 L544.75,870.05 L544.80,870.75 L545.00,872.37 L545.13,874.48 L545.25,874.28 L545.40,876.03 L545.60,876.02 L546.10,877.72 L546.69,878.61 L547.30,879.45 L547.90,881.54 L548.50,882.44 L549.10,882.82 L549.69,881.86 L550.26,879.94 L550.80,880.15 L551.05,880.41 L551.28,881.31 L551.50,882.52 L551.72,883.70 L551.95,884.18 L552.20,885.80 L552.61,886.88 L553.06,888.25 L553.50,889.41 L553.90,890.19 L554.36,889.81 L554.77,888.01 L555.20,886.49 L555.54,885.69 L555.89,883.86 L556.25,882.76 L556.60,881.56 L556.88,880.32 L557.16,879.39 L557.44,878.22 L557.72,877.43 L558.00,875.82 L559.40,874.51 L560.70,874.29 L560.84,873.44 L560.91,872.76 L560.96,871.36 L561.10,870.02 L561.18,869.39 L561.26,869.03 L561.36,867.30 L561.46,865.86 L561.56,865.90 L561.68,864.45 L561.79,862.57 L561.92,861.69 L562.04,860.22 L562.17,858.62 L562.30,858.25 L562.44,857.82 L562.58,856.14 L562.72,855.16 L562.87,853.26 L563.02,852.52 L563.18,851.50 L563.36,850.68 L563.55,850.19 L563.76,849.43 L564.00,847.80 L564.57,847.17 L565.24,846.24 L565.96,845.21 L566.67,843.89 L567.30,843.42 L567.70,841.86 L568.08,841.57 L568.44,840.55 L568.79,839.08 L569.13,838.78 L569.47,838.27 L569.80,836.70 L570.09,835.50 L570.38,834.34 L570.66,833.49 L570.93,832.56 L571.20,830.65 L571.47,829.87 L571.74,828.85 L572.00,827.92 L573.03,826.90 L574.00,827.62 L574.26,828.21 L574.51,830.21 L574.75,830.65 L574.99,832.36 L575.23,834.05 L575.47,834.88 L575.70,835.23 L575.90,834.41 L576.09,833.61 L576.27,833.07 L576.45,832.31 L576.64,830.89 L576.84,829.38 L577.06,828.42 L577.30,826.67 L577.48,825.47 L577.66,824.70 L577.86,823.80 L578.07,822.59 L578.28,820.79 L578.49,820.41 L578.71,819.03 L578.93,817.88 L579.15,816.26 L579.37,815.39 L579.59,815.17 L579.80,813.87 L580.39,812.70 L580.94,811.28 L581.56,810.69 L582.30,810.04 L583.26,809.22 L584.38,808.86 L585.51,809.10 L586.50,810.23 L587.64,809.40 L588.63,811.22 L589.30,811.42"/>
<path fill="none" stroke="#0000ff" stroke-width="1.2" stroke-linejoin="round" d="M79.00,824.70 L79.75,825.50 L80.81,824.94 L82.07,824.16 L83.41,825.05 L84.72,824.87 L85.89,825.62 L86.80,825.12 L88.18,824.22 L89.40,823.69 L90.29,823.76 L91.37,823.96 L92.57,824.03 L93.78,823.92 L94.92,823.67 L95.90,824.01 L97.10,825.58 L98.13,825.45 L99.02,825.87 L99.80,826.27 L100.56,825.11 L101.11,824.67 L101.80,823.76 L102.73,823.94 L103.81,824.07 L105.10,825.03 L106.07,824.95 L107.20,825.25 L108.37,824.57 L109.44,824.39 L110.30,824.73 L111.29,823.52 L112.20,822.50 L113.22,823.02 L114.50,822.83 L115.78,824.14 L116.80,824.48 L117.53,824.66 L117.97,826.37 L118.70,827.06 L119.69,826.99 L120.91,826.73 L122.18,825.98 L123.30,825.46 L124.50,824.63 L125.56,824.18 L126.60,823.29 L127.70,824.83 L128.78,824.72 L129.80,825.79 L131.18,825.40 L132.40,825.03 L133.40,825.92 L134.40,828.36 L135.24,828.29 L136.16,829.30 L137.00,830.45 L137.67,831.17 L138.27,832.47 L139.00,833.75 L139.71,834.53 L140.52,835.22 L141.36,835.52 L142.20,836.81 L142.82,837.27 L143.42,838.67 L144.04,838.98 L144.72,839.65 L145.50,840.55 L146.12,841.01 L146.76,841.65 L147.44,843.65 L148.17,843.08 L148.95,844.75 L149.79,845.64 L150.70,846.55 L151.33,846.73 L152.02,848.06 L152.75,848.91 L153.51,849.21 L154.29,849.95 L155.08,850.69 L155.87,851.48 L156.65,851.71 L157.40,852.93 L158.12,853.44 L158.80,854.59 L159.57,854.89 L160.29,855.57 L160.98,856.62 L161.65,856.74 L162.30,858.00 L162.95,858.70 L163.61,860.24 L164.29,861.07 L165.00,861.92 L165.74,862.09 L166.49,863.35 L167.25,863.93 L168.02,864.88 L168.80,865.66 L169.58,866.77 L170.36,866.43 L171.13,867.77 L171.90,868.72 L172.89,869.26 L173.91,869.74 L174.93,870.13 L175.93,870.07 L176.91,870.18 L177.83,870.21 L178.70,870.84 L179.78,871.12 L180.73,870.38 L181.63,869.54 L182.53,869.13 L183.50,868.81 L184.56,869.17 L185.65,868.53 L186.77,868.54 L187.89,869.30 L189.00,868.91 L190.13,867.97 L191.30,869.20 L192.45,869.45 L193.53,869.04 L194.50,869.66 L195.41,868.76 L196.10,868.22 L196.84,867.20 L197.90,866.55 L198.74,867.29 L199.74,866.20 L200.83,865.65 L201.96,865.32 L203.07,865.88 L204.10,864.93 L205.00,864.91 L206.07,864.19 L206.78,863.51 L207.68,862.96 L209.30,862.12 L210.01,862.10 L210.82,862.33 L211.70,861.32 L212.66,861.30 L213.66,861.17 L214.71,861.08 L215.79,859.90 L216.90,859.41 L218.01,859.53 L219.11,858.80 L220.21,859.25 L221.27,857.69 L222.30,858.64 L223.31,857.98 L224.34,857.15 L225.39,856.85 L226.43,856.62 L227.49,856.94 L228.53,856.81 L229.58,856.83 L230.60,855.78 L231.62,855.32 L232.61,855.73 L233.57,854.89 L234.50,855.26 L235.40,855.18 L236.65,854.36 L237.88,854.76 L239.06,854.38 L240.21,853.41 L241.30,854.74 L242.35,854.12 L243.33,853.89 L244.25,853.05 L245.10,853.51 L246.36,852.74 L247.33,851.87 L248.16,851.54 L248.99,850.14 L250.00,850.16 L250.65,850.98 L251.34,851.99 L252.05,852.55 L252.78,853.70 L253.52,854.27 L254.27,855.65 L255.02,856.50 L255.77,856.57 L256.50,857.58 L257.41,857.43 L258.31,857.82 L259.20,856.97 L260.10,856.75 L261.02,855.12 L261.98,854.76 L263.00,853.97 L263.95,854.05 L264.94,852.62 L265.97,852.51 L267.02,852.97 L268.08,852.28 L269.14,851.15 L270.18,851.42 L271.20,850.58 L272.16,850.24 L273.04,849.88 L273.90,850.06 L274.77,849.48 L275.68,849.71 L276.66,849.41 L277.75,848.91 L279.00,849.11 L279.85,847.83 L280.74,848.30 L281.68,848.18 L282.66,848.18 L283.67,847.22 L284.72,846.57 L285.79,847.49 L286.88,846.45 L287.99,846.70 L289.11,845.92 L290.24,845.69 L291.37,846.15 L292.50,845.20 L293.42,844.60 L294.36,845.18 L295.32,844.59 L296.29,844.74 L297.27,844.49 L298.26,843.48 L299.25,844.17 L300.26,844.44 L301.26,842.67 L302.27,842.80 L303.29,843.24 L304.30,842.97 L305.30,842.98 L306.31,842.60 L307.31,842.14 L308.30,842.16 L309.30,842.43 L310.32,841.10 L311.36,841.21 L312.41,841.70 L313.47,841.11 L314.53,840.96 L315.59,840.09 L316.64,839.83 L317.67,839.65 L318.69,839.06 L319.68,839.73 L320.64,839.79 L321.57,839.30 L322.46,838.61 L323.30,839.28 L324.10,838.92 L325.58,837.82 L326.94,837.98 L328.19,838.51 L329.33,837.83 L330.37,838.35 L331.31,837.90 L332.15,838.53 L332.90,838.12 L334.62,836.70 L335.40,836.21 L335.90,838.48 L336.25,839.62 L336.60,840.17 L336.78,838.68 L336.96,837.86 L337.14,837.23 L337.32,834.75 L337.49,833.22 L337.65,831.82 L337.80,831.68 L337.94,832.69 L338.06,834.39 L338.16,835.02 L338.26,837.08 L338.37,838.42 L338.50,839.55 L338.73,838.49 L338.99,837.29 L339.26,835.55 L339.50,835.03 L339.77,835.69 L340.01,837.87 L340.30,838.66 L340.52,838.79 L340.76,836.16 L341.02,835.35 L341.27,833.85 L341.50,832.55 L342.50,834.58 L342.65,835.97 L342.79,837.26 L342.91,838.74 L343.05,839.09 L343.20,839.74 L343.33,839.24 L343.47,838.70 L343.61,838.05 L343.76,836.30 L343.91,835.27 L344.06,833.03 L344.20,832.20 L344.66,830.87 L345.10,830.33 L345.19,830.86 L345.28,831.84 L345.37,832.90 L345.45,835.18 L345.54,836.42 L345.62,837.63 L345.71,838.68 L345.80,838.77 L345.90,839.98 L346.12,839.25 L346.34,838.96 L346.60,837.31 L346.90,836.63 L347.43,837.05 L348.03,838.54 L348.60,838.96 L349.31,840.47 L350.00,840.06 L350.76,839.84 L351.50,838.71 L352.06,836.99 L352.70,835.83 L353.69,835.95 L354.90,836.44 L355.78,835.15 L357.80,835.27 L358.50,835.29 L359.30,834.84 L360.18,835.67 L361.13,835.10 L362.16,834.75 L363.24,834.28 L364.37,833.79 L365.54,834.50 L366.74,834.62 L367.97,834.78 L369.20,834.49 L370.15,833.63 L371.17,834.59 L372.24,834.65 L373.37,834.51 L374.53,833.93 L375.70,834.21 L376.89,834.54 L378.06,833.87 L379.22,834.33 L380.34,833.85 L381.42,834.68 L382.44,834.58 L383.38,834.13 L384.24,834.10 L385.00,834.87 L386.73,834.39 L387.86,834.17 L388.66,834.48 L389.42,834.71 L390.40,834.87 L391.25,834.78 L392.10,833.95 L392.97,833.30 L393.87,833.37 L394.81,832.79 L395.82,832.71 L396.90,833.13 L397.81,832.11 L398.79,831.66 L399.82,831.84 L400.88,831.73 L401.96,832.05 L403.04,831.52 L404.10,831.56 L405.12,831.14 L406.10,831.15 L407.13,831.04 L408.12,830.64 L409.07,830.48 L410.01,830.62 L410.94,830.03 L411.89,828.97 L412.87,829.39 L413.90,829.32 L414.85,828.99 L415.83,829.30 L416.84,828.63 L417.86,829.09 L418.88,828.31 L419.92,827.72 L420.95,828.45 L421.98,827.70 L423.00,828.22 L424.02,828.07 L425.06,828.17 L426.10,828.27 L427.15,828.20 L428.19,827.44 L429.21,828.35 L430.21,828.06 L431.17,827.30 L432.10,827.58 L433.26,828.08 L434.41,826.48 L435.53,826.72 L436.59,827.06 L437.59,827.27 L438.50,826.53 L439.30,826.91 L440.66,827.86 L441.57,826.92 L442.50,827.48 L443.35,828.92 L444.23,829.48 L445.06,830.29 L445.80,831.25 L446.38,832.03 L446.84,832.80 L447.29,834.01 L447.80,835.98 L448.03,836.51 L448.27,837.01 L448.50,838.42 L448.75,839.59 L449.00,841.21 L449.26,841.95 L449.53,842.83 L449.81,843.59 L450.10,845.60 L450.40,846.01 L450.72,847.05 L451.06,848.18 L451.42,849.43 L451.78,850.18 L452.16,851.07 L452.53,852.40 L452.91,853.03 L453.28,854.26 L453.65,855.24 L454.00,856.32 L454.31,857.23 L454.62,857.52 L454.92,858.52 L455.22,859.46 L455.51,860.96 L455.81,862.19 L456.11,862.75 L456.40,863.78 L456.70,864.36 L457.00,865.54 L457.30,867.03 L457.72,867.86 L458.15,867.78 L458.57,869.75 L459.00,870.36 L459.43,871.38 L459.85,872.58 L460.28,873.53 L460.70,873.78 L461.12,874.98 L461.54,876.04 L461.96,877.68 L462.38,877.58 L462.79,878.44 L463.20,879.54 L463.60,880.64 L464.00,881.14 L464.32,882.22 L464.64,884.10 L464.95,884.89 L465.27,886.14 L465.58,887.38 L465.89,888.71 L466.18,889.62 L466.47,890.06 L466.74,890.69 L467.00,892.41 L467.74,892.07 L468.37,890.49 L469.00,889.45 L470.02,887.99 L471.00,887.49 L471.57,888.79 L472.11,889.48 L472.70,890.78 L473.01,889.56 L473.32,888.46 L473.64,887.80 L473.99,886.00 L474.37,885.46 L474.80,884.05 L475.58,883.03 L476.47,882.79 L477.38,881.97 L478.20,880.50 L478.60,879.93 L478.98,878.34 L479.33,877.31 L479.68,876.60 L480.01,874.97 L480.35,874.32 L480.70,873.54 L481.07,871.82 L481.44,871.21 L481.82,869.96 L482.19,869.23 L482.55,868.24 L482.89,867.28 L483.20,866.48 L484.80,867.39 L485.50,866.62 L486.26,865.01 L487.00,864.01 L487.52,864.47 L488.03,865.33 L488.53,867.09 L489.00,867.84 L489.25,869.06 L489.47,870.53 L489.68,871.21 L489.90,872.41 L490.13,874.13 L490.39,875.19 L490.70,875.26 L491.22,877.57 L491.82,878.43 L492.45,879.44 L493.09,880.64 L493.70,879.99 L494.11,880.19 L494.52,879.46 L494.93,878.21 L495.33,877.76 L495.73,876.34 L496.12,874.80 L496.50,875.02 L497.72,874.26 L499.00,872.95 L499.59,872.07 L500.22,871.69 L500.88,870.33 L501.57,869.07 L502.30,868.09 L503.10,867.47 L503.96,866.79 L504.84,865.31 L505.70,864.70 L506.50,864.38 L507.41,863.12 L508.26,862.17 L509.05,860.90 L509.80,860.44 L510.48,861.15 L511.10,861.91 L511.69,863.02 L512.30,864.39 L512.53,865.89 L512.75,866.61 L512.98,867.90 L513.21,869.17 L513.44,870.17 L513.66,871.38 L513.89,872.89 L514.12,874.00 L514.35,875.33 L514.57,875.30 L514.80,876.66 L515.60,878.08 L516.40,878.60 L517.30,878.81 L517.82,879.86 L518.37,880.65 L518.95,881.94 L519.54,883.17 L520.13,883.68 L520.70,884.42 L521.81,884.19 L522.90,883.58 L524.00,882.63 L525.04,883.73 L526.07,885.36 L527.30,885.01 L528.23,885.42 L529.30,886.16 L530.40,887.13 L531.43,888.74 L532.30,888.44 L533.11,887.73 L533.72,886.87 L534.25,886.45 L534.80,885.28 L535.28,883.66 L535.75,882.46 L536.21,882.16 L536.66,880.54 L537.10,880.84 L537.81,881.43 L538.49,882.24 L539.10,884.32 L539.84,884.27 L540.50,885.16 L540.70,886.33 L540.90,887.25 L541.11,888.65 L541.31,889.55 L541.51,891.44 L541.71,892.04 L541.90,893.17 L542.09,894.58 L542.28,895.88 L542.46,896.05 L542.64,897.15 L542.82,898.70 L543.01,899.77 L543.20,900.55 L543.39,901.98 L543.59,903.86 L543.79,904.20 L543.99,905.71 L544.20,906.01 L544.40,907.45 L544.60,908.46 L544.83,909.75 L545.06,910.96 L545.28,911.13 L545.51,912.20 L545.75,913.51 L546.00,914.77 L546.53,915.62 L547.09,917.20 L547.70,916.57 L548.39,916.94 L549.11,914.70 L549.80,914.04 L550.28,914.82 L550.74,916.31 L551.15,916.96 L551.50,918.49 L551.89,919.20 L552.20,920.50 L552.68,919.30 L553.20,917.58 L553.32,918.60 L553.45,919.36 L553.57,919.89 L553.69,921.72 L553.81,922.94 L553.94,923.07 L554.07,925.70 L554.20,926.55 L554.43,928.23 L554.67,929.83 L554.91,930.18 L555.16,931.56 L555.40,931.84 L555.69,931.85 L555.97,929.82 L556.26,928.93 L556.60,927.68 L556.91,926.48 L557.26,924.40 L557.62,924.45 L557.97,923.65 L558.30,921.98 L558.61,921.40 L558.90,919.20 L559.18,918.30 L559.45,918.26 L559.70,916.13 L559.96,915.53 L560.18,914.28 L560.41,913.24 L560.70,912.13 L561.00,910.51 L561.34,909.79 L561.71,908.74 L562.07,907.51 L562.40,906.30 L562.76,905.29 L563.10,904.10 L563.44,902.72 L563.80,902.09 L564.36,901.19 L564.94,899.91 L565.50,898.26 L565.81,897.99 L566.10,895.87 L566.38,895.65 L566.65,894.38 L566.90,893.39 L567.90,892.28 L568.41,891.10 L569.00,890.06 L569.60,889.37 L570.21,887.83 L570.83,887.32 L571.40,886.41 L572.70,885.42 L573.51,886.39 L574.50,887.87 L574.97,887.52 L575.48,886.95 L576.03,885.73 L576.63,884.76 L577.30,883.31 L577.71,882.43 L578.17,881.77 L578.66,880.55 L579.16,879.92 L579.67,878.28 L580.17,877.58 L580.65,876.99 L581.10,874.91 L581.50,875.16 L582.46,875.61 L583.23,877.24 L584.00,878.15 L585.23,878.57 L586.50,878.83 L587.09,879.34 L587.73,880.78 L588.37,882.63 L588.91,883.26 L589.30,884.52"/>
<rect x="78.9" y="568.2" width="510.9" height="376.0999999999999" fill="none" stroke="#111" stroke-width="1.6"/>
<line x1="78.90" y1="944.3" x2="78.90" y2="952.5" stroke="#111" stroke-width="1.6"/>
<text x="78.90" y="972.2" text-anchor="middle" font-size="18.6" fill="#111">4000</text>
<line x1="142.76" y1="944.3" x2="142.76" y2="948.5" stroke="#111" stroke-width="1.6"/>
<line x1="206.62" y1="944.3" x2="206.62" y2="952.5" stroke="#111" stroke-width="1.6"/>
<text x="206.62" y="972.2" text-anchor="middle" font-size="18.6" fill="#111">3200</text>
<line x1="270.49" y1="944.3" x2="270.49" y2="948.5" stroke="#111" stroke-width="1.6"/>
<line x1="334.35" y1="944.3" x2="334.35" y2="952.5" stroke="#111" stroke-width="1.6"/>
<text x="334.35" y="972.2" text-anchor="middle" font-size="18.6" fill="#111">2400</text>
<line x1="398.21" y1="944.3" x2="398.21" y2="948.5" stroke="#111" stroke-width="1.6"/>
<line x1="462.08" y1="944.3" x2="462.08" y2="952.5" stroke="#111" stroke-width="1.6"/>
<text x="462.08" y="972.2" text-anchor="middle" font-size="18.6" fill="#111">1600</text>
<line x1="525.94" y1="944.3" x2="525.94" y2="948.5" stroke="#111" stroke-width="1.6"/>
<line x1="589.80" y1="944.3" x2="589.80" y2="952.5" stroke="#111" stroke-width="1.6"/>
<text x="589.80" y="972.2" text-anchor="middle" font-size="18.6" fill="#111">800</text>
<text x="253.5" y="1007.7" font-size="18.6" fill="#111">Wavenumber (cm<tspan font-size="11" dx="1.5" dy="-8">-1</tspan><tspan dx="1.5" dy="8">)</tspan></text>
<text transform="translate(43.1,761) rotate(-90)" text-anchor="middle" font-size="18.6" fill="#111">Transmittance (%)</text>
<text x="9" y="531.2" style="font-family:'Liberation Serif', serif" font-size="18" fill="#111">(b)</text>
<line x1="339.5" y1="580.1" x2="382.1" y2="580.1" stroke="#4a4a4a" stroke-width="1.6"/>
<text x="387.7" y="586.7" font-size="18.6" fill="#111">HAF-CS</text>
<line x1="339.5" y1="603.1" x2="382.1" y2="603.1" stroke="#ff8080" stroke-width="1.6"/>
<text x="387.7" y="609.7" font-size="18.6" fill="#111">MHAF-CS</text>
<line x1="339.5" y1="626.1" x2="382.1" y2="626.1" stroke="#7a7aff" stroke-width="1.6"/>
<text x="387.7" y="632.7" font-size="18.6" fill="#111">MHAF-CS (RB4 loaded)</text>
<text x="168.6" y="809.6" font-size="10.8" fill="#3a3a3a">3350</text>
<text x="249" y="789.2" font-size="10.8" fill="#3a3a3a">2872</text>
<text x="445.7" y="797" font-size="10.8" fill="#3a3a3a">1590</text>
<text x="487.3" y="801.7" font-size="10.8" fill="#3a3a3a">1373</text>
<text x="541.5" y="870.8" font-size="10.8" fill="#3a3a3a">1027</text>
<text x="513.7" y="901.7" font-size="10.8" fill="#3a3a3a">1160</text>
<line x1="180.4" y1="816.4" x2="182.79" y2="857.32" stroke="#444" stroke-width="0.8"/>
<polygon points="183.4,867.8 179.99,857.48 185.58,857.15" fill="#111"/>
<line x1="459.3" y1="804.2" x2="466.26" y2="867.96" stroke="#444" stroke-width="0.8"/>
<polygon points="467.4,878.4 463.48,868.27 469.04,867.66" fill="#111"/>
<line x1="551.5" y1="890.9" x2="555.18" y2="914.53" stroke="#444" stroke-width="0.8"/>
<polygon points="556.8,924.9 552.42,914.96 557.95,914.09" fill="#111"/>
</svg>
</body></html>
